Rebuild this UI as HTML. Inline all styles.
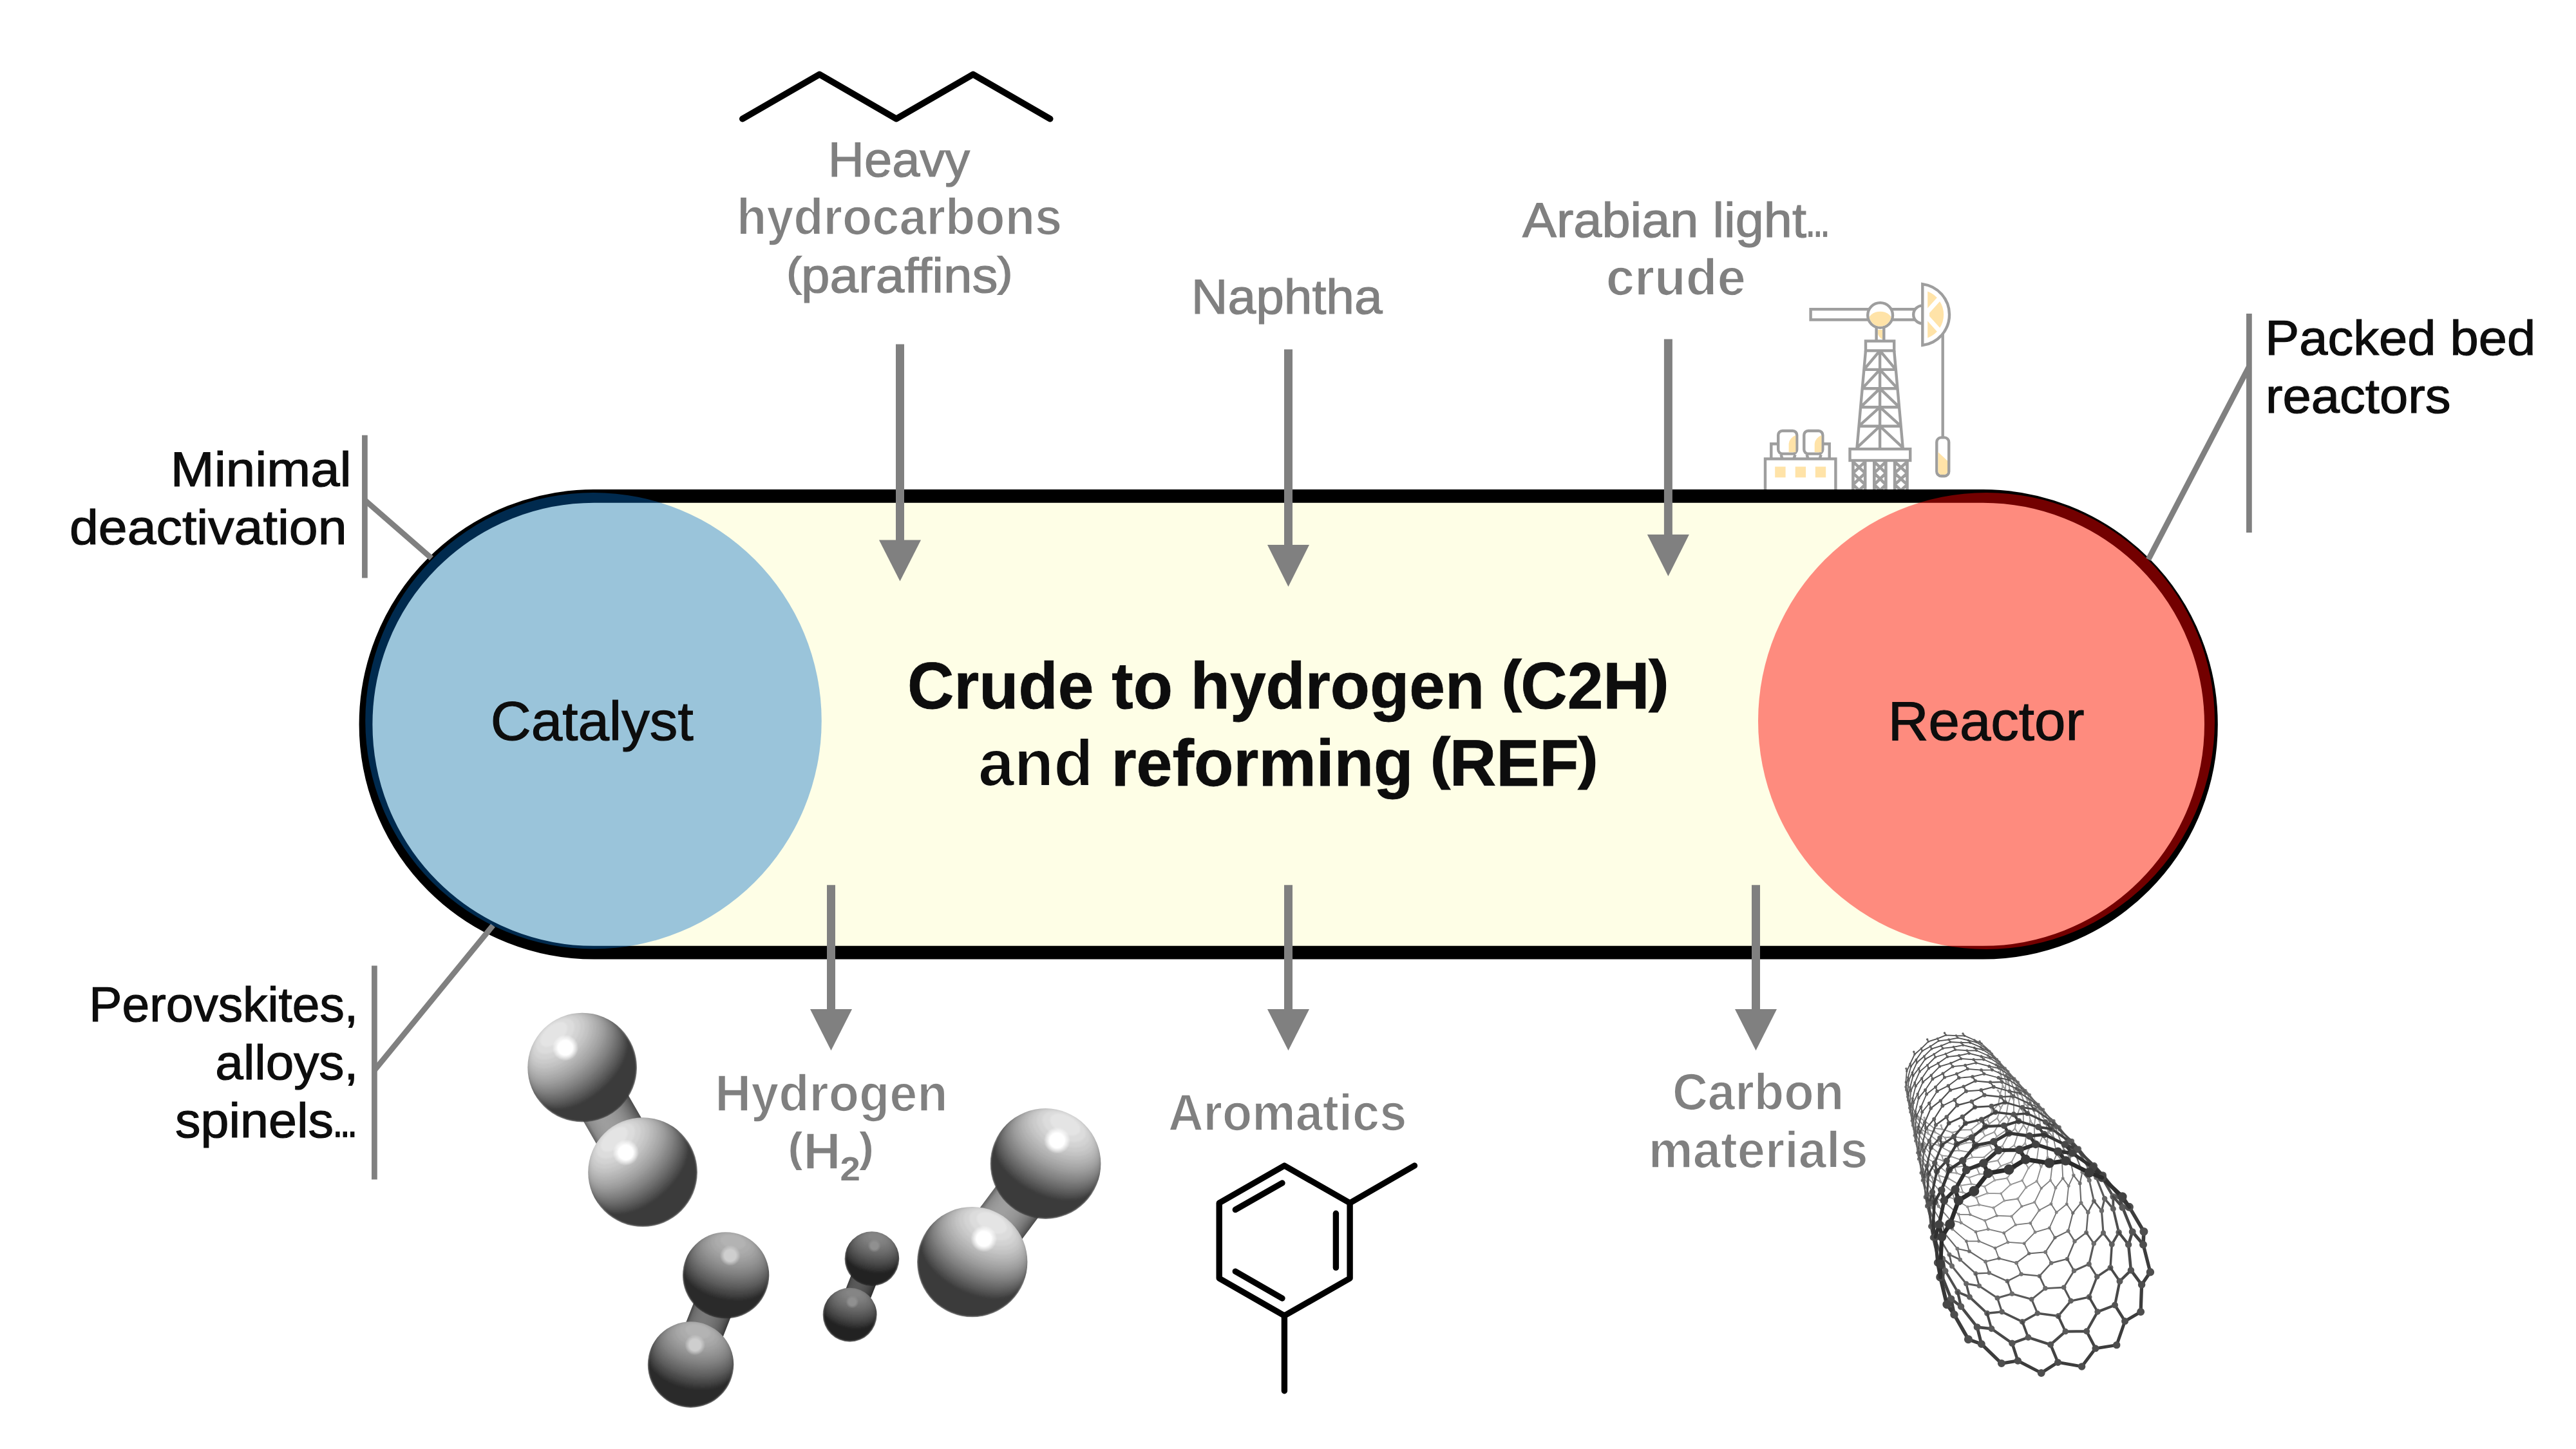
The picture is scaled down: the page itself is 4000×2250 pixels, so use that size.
<!DOCTYPE html>
<html><head><meta charset="utf-8"><title>Crude to hydrogen</title>
<style>
html,body{margin:0;padding:0;background:#fff;}
body{width:4000px;height:2250px;overflow:hidden;}
svg{display:block;font-family:"Liberation Sans", sans-serif;}
text{font-family:"Liberation Sans", sans-serif;white-space:pre;}
</style></head><body>
<svg width="4000" height="2250" viewBox="0 0 4000 2250">
<defs>

</defs>
<rect width="4000" height="2250" fill="#fff"/>
<g id="rig">
<g fill="none" stroke="#9e9e9e" stroke-width="4.4" stroke-linejoin="miter">
<path d="M2750.3,712.5 L2750.3,689.2 L2762,689.2 M2830,689.2 L2840.7,689.2 L2840.7,712.5"/>
<rect x="2741" y="712.5" width="109.4" height="60" fill="#fff"/>
<rect x="2756.2" y="724.6" width="16.4" height="16.8" fill="#ffe3a8" stroke="none"/>
<rect x="2787.7" y="724.6" width="16.4" height="16.8" fill="#ffe3a8" stroke="none"/>
<rect x="2818.8" y="724.6" width="16.4" height="16.8" fill="#ffe3a8" stroke="none"/>
<path d="M2765.5,706 L2767.5,712.5 M2787.5,706 L2785.5,712.5"/>
<rect x="2761.2" y="669" width="29" height="35.6" rx="6.5" fill="#fff"/>
<path d="M2788.4,675.7 L2788.4,702.3 L2777.6,702.3 L2777.6,689 Q2778.5,680 2788.4,675.7 Z" fill="#ffe3a8" stroke="none"/>
<path d="M2805.6,706 L2807.6,712.5 M2827.6,706 L2825.6,712.5"/>
<rect x="2801.2999999999997" y="669" width="29" height="35.6" rx="6.5" fill="#fff"/>
<path d="M2828.5,675.7 L2828.5,702.3 L2817.7,702.3 L2817.7,689 Q2818.6,680 2828.5,675.7 Z" fill="#ffe3a8" stroke="none"/>
<path d="M2897.0,544.5 L2883.5,695.1 M2941.2,544.5 L2954.7,695.1 M2919.1,544.5 L2919.1,695.1 M2894.4,573.9 L2943.8,573.9 M2891.7,603.3 L2946.5,603.3 M2889.1,632.2 L2949.1,632.2 M2886.5,661.7 L2951.7,661.7 M2894.4,573.9 L2919.1,544.5 L2943.8,573.9 M2891.7,603.3 L2919.1,573.9 L2946.5,603.3 M2889.1,632.2 L2919.1,603.3 L2949.1,632.2 M2886.5,661.7 L2919.1,632.2 L2951.7,661.7 M2883.5,695.1 L2919.1,661.7 L2954.7,695.1"/>
<rect x="2897" y="529.6" width="44.2" height="14.9" fill="#fff"/>
<path d="M2915.9,512 L2923.2,512 L2923.2,527 Q2916.5,523 2915.9,518 Z" fill="#ffe3a8" stroke="none"/>
<path d="M2913.6,508 L2913.6,529 M2925.3,508 L2925.3,529"/>
<rect x="2811.6" y="480.2" width="95" height="16.3" fill="#fff"/>
<rect x="2932" y="480.2" width="45" height="16.3" fill="#fff"/>
<path d="M2985,474.6 A13.75 13.75 0 0 0 2985,502.2" fill="#fff"/>
<circle cx="2919.6" cy="489.5" r="19.4" fill="#fff"/>
<clipPath id="pivc"><circle cx="2919.6" cy="489.5" r="17.2"/></clipPath>
<ellipse cx="2919.6" cy="499" rx="19" ry="15.3" fill="#ffe3a8" stroke="none" clip-path="url(#pivc)"/>
<path d="M3016.7,516 L3016.7,680"/>
<path d="M2985.3,441.1 A47.9 47.9 0 0 1 2985.3,536.1 Z" fill="#fff"/>
<path d="M2993.2,452.5 A38.6 38.6 0 0 1 2993.2,524.7 Z" fill="#ffe3a8" stroke="none"/>
<path d="M2992.2,484.9 L3029,444 M2992.2,492.1 L3029,533 M2990.3,488.5 L2996,488.5" stroke="#fff" stroke-width="7.2" clip-path="url(#hhc)"/>
<clipPath id="hhc"><circle cx="2979.3" cy="488.6" r="45.5"/></clipPath>
<rect x="3007.3" y="679.4" width="18.9" height="59.8" rx="7" fill="#fff"/>
<clipPath id="capc"><rect x="3009.5" y="681.6" width="14.5" height="55.4" rx="5"/></clipPath>
<path d="M3009,701.6 L3024.8,716.2 L3024.8,740 L3009,740 Z" fill="#ffe3a8" stroke="none" clip-path="url(#capc)"/>
<clipPath id="latc"><rect x="2870" y="715" width="100" height="50"/></clipPath>
<path d="M2877.4,715 L2877.4,770 M2896.2,715 L2896.2,770 M2877.4,716.9 L2896.2,699.1 M2877.4,699.1 L2896.2,716.9 M2877.4,734.7 L2896.2,716.9 M2877.4,716.9 L2896.2,734.7 M2877.4,752.5 L2896.2,734.7 M2877.4,734.7 L2896.2,752.5 M2877.4,770.3 L2896.2,752.5 M2877.4,752.5 L2896.2,770.3 M2877.4,788.1 L2896.2,770.3 M2877.4,770.3 L2896.2,788.1 M2910.3,715 L2910.3,770 M2928.4,715 L2928.4,770 M2910.3,716.9 L2928.4,699.1 M2910.3,699.1 L2928.4,716.9 M2910.3,734.7 L2928.4,716.9 M2910.3,716.9 L2928.4,734.7 M2910.3,752.5 L2928.4,734.7 M2910.3,734.7 L2928.4,752.5 M2910.3,770.3 L2928.4,752.5 M2910.3,752.5 L2928.4,770.3 M2910.3,788.1 L2928.4,770.3 M2910.3,770.3 L2928.4,788.1 M2942.1,715 L2942.1,770 M2961.5,715 L2961.5,770 M2942.1,716.9 L2961.5,699.1 M2942.1,699.1 L2961.5,716.9 M2942.1,734.7 L2961.5,716.9 M2942.1,716.9 L2961.5,734.7 M2942.1,752.5 L2961.5,734.7 M2942.1,734.7 L2961.5,752.5 M2942.1,770.3 L2961.5,752.5 M2942.1,752.5 L2961.5,770.3 M2942.1,788.1 L2961.5,770.3 M2942.1,770.3 L2961.5,788.1" stroke-width="4.6" clip-path="url(#latc)"/>
<rect x="2872.5" y="697.2" width="93.7" height="17.8" fill="#fff"/>
</g>

</g>
<g id="pill">
<rect x="568.0" y="770.4" width="2865.4" height="708.8" rx="354.4" ry="354.4" fill="#fefee6" stroke="#000" stroke-width="20.8"/>
</g>
<g id="connectors">
<line x1="566.4" y1="675.75" x2="566.4" y2="897.5" stroke="#808080" stroke-width="8.75"/>
<line x1="566.4" y1="776.5" x2="670" y2="866.75" stroke="#808080" stroke-width="8.75"/>
<line x1="581.4" y1="1499.5" x2="581.4" y2="1831.5" stroke="#808080" stroke-width="8.75"/>
<line x1="581.4" y1="1662" x2="765.5" y2="1436.9" stroke="#808080" stroke-width="8.75"/>
<line x1="3492.4" y1="487" x2="3492.4" y2="827" stroke="#808080" stroke-width="8.75"/>
<line x1="3492.4" y1="569" x2="3336" y2="868.75" stroke="#808080" stroke-width="8.75"/>
</g>
<g id="circles">
<circle cx="921.5" cy="1119.25" r="354.25" fill="rgb(0,108,198)" fill-opacity="0.394"/>
<circle cx="3084.5" cy="1119.5" r="354.5" fill="rgb(255,0,0)" fill-opacity="0.45"/>
</g>
<g id="arrows">
<rect x="1391.00" y="534.50" width="13" height="305.00" fill="#808080"/><polygon points="1365.00,838.50 1430.00,838.50 1397.50,902.50" fill="#808080"/>
<rect x="1994.00" y="542.50" width="13" height="304.50" fill="#808080"/><polygon points="1968.00,846.00 2033.00,846.00 2000.50,911.00" fill="#808080"/>
<rect x="2583.90" y="526.60" width="13" height="304.40" fill="#808080"/><polygon points="2557.90,830.00 2622.90,830.00 2590.40,894.80" fill="#808080"/>
<rect x="1284.00" y="1374.25" width="13" height="193.75" fill="#808080"/><polygon points="1258.00,1567.00 1323.00,1567.00 1290.50,1631.25" fill="#808080"/>
<rect x="1994.00" y="1374.25" width="13" height="193.75" fill="#808080"/><polygon points="1968.00,1567.00 2033.00,1567.00 2000.50,1631.25" fill="#808080"/>
<rect x="2720.00" y="1374.25" width="13" height="193.75" fill="#808080"/><polygon points="2694.00,1567.00 2759.00,1567.00 2726.50,1631.25" fill="#808080"/>
</g>
<g id="texts">
<text id="t_heavy" x="1285.85" y="273.75" font-size="76.2" font-weight="normal" fill="#808080" stroke="#808080" stroke-width="1.2" textLength="220.17" lengthAdjust="spacingAndGlyphs">Heavy</text>
<text id="t_hydroc" x="1143.89" y="364.25" font-size="80.6" font-weight="bold" fill="#808080" stroke="#fff" stroke-width="1.7" textLength="505.17" lengthAdjust="spacingAndGlyphs">hydrocarbons</text>
<text id="t_paraf" x="1221.70" y="453.50" font-size="76.2" font-weight="normal" fill="#808080" stroke="#808080" stroke-width="1.2" textLength="350.08" lengthAdjust="spacingAndGlyphs"><tspan font-size="63.8" stroke-width="2.0" dy="-9.7">(</tspan><tspan dy="9.7">paraffins</tspan><tspan font-size="63.8" stroke-width="2.0" dy="-9.7">)</tspan></text>
<text id="t_naph" x="1849.89" y="486.60" font-size="76.2" font-weight="normal" fill="#808080" stroke="#808080" stroke-width="1.2" textLength="296.72" lengthAdjust="spacingAndGlyphs">Naphtha</text>
<text id="t_arab" x="2364.00" y="368.00" font-size="76.2" font-weight="normal" fill="#808080" stroke="#808080" stroke-width="1.2" textLength="441.00" lengthAdjust="spacingAndGlyphs">Arabian light</text>
<text id="t_crude" x="2493.69" y="457.90" font-size="80.6" font-weight="bold" fill="#808080" stroke="#fff" stroke-width="1.7" textLength="217.22" lengthAdjust="spacingAndGlyphs">crude</text>
<text id="t_hydrogen" x="1110.33" y="1725.00" font-size="80.6" font-weight="bold" fill="#808080" stroke="#fff" stroke-width="1.7" textLength="361.31" lengthAdjust="spacingAndGlyphs">Hydrogen</text>
<text id="t_arom" x="1813.94" y="1754.80" font-size="80.6" font-weight="bold" fill="#808080" stroke="#fff" stroke-width="1.7" textLength="370.32" lengthAdjust="spacingAndGlyphs">Aromatics</text>
<text id="t_carbon" x="2596.91" y="1722.50" font-size="80.6" font-weight="bold" fill="#808080" stroke="#fff" stroke-width="1.7" textLength="266.28" lengthAdjust="spacingAndGlyphs">Carbon</text>
<text id="t_mater" x="2559.84" y="1812.50" font-size="80.6" font-weight="bold" fill="#808080" stroke="#fff" stroke-width="1.7" textLength="340.76" lengthAdjust="spacingAndGlyphs">materials</text>
<text id="t_minimal" x="264.78" y="755.00" font-size="76.2" font-weight="normal" fill="#0d0d0d" stroke="#0d0d0d" stroke-width="1.2" textLength="280.91" lengthAdjust="spacingAndGlyphs">Minimal</text>
<text id="t_deact" x="107.97" y="845.00" font-size="76.2" font-weight="normal" fill="#0d0d0d" stroke="#0d0d0d" stroke-width="1.2" textLength="430.61" lengthAdjust="spacingAndGlyphs">deactivation</text>
<text id="t_perov" x="138.34" y="1585.75" font-size="76.2" font-weight="normal" fill="#0d0d0d" stroke="#0d0d0d" stroke-width="1.2" textLength="417.83" lengthAdjust="spacingAndGlyphs">Perovskites,</text>
<text id="t_alloys" x="334.38" y="1676.25" font-size="76.2" font-weight="normal" fill="#0d0d0d" stroke="#0d0d0d" stroke-width="1.2" textLength="221.84" lengthAdjust="spacingAndGlyphs">alloys,</text>
<text id="t_spinels" x="271.99" y="1766.25" font-size="76.2" font-weight="normal" fill="#0d0d0d" stroke="#0d0d0d" stroke-width="1.2" textLength="246.04" lengthAdjust="spacingAndGlyphs">spinels</text>
<text id="t_packed" x="3517.34" y="550.50" font-size="76.2" font-weight="normal" fill="#0d0d0d" stroke="#0d0d0d" stroke-width="1.2" textLength="419.78" lengthAdjust="spacingAndGlyphs">Packed bed</text>
<text id="t_reactors" x="3517.92" y="640.50" font-size="76.2" font-weight="normal" fill="#0d0d0d" stroke="#0d0d0d" stroke-width="1.2" textLength="287.63" lengthAdjust="spacingAndGlyphs">reactors</text>
<text id="t_catalyst" x="761.75" y="1149.30" font-size="84.9" font-weight="normal" fill="#0d0d0d" stroke="#0d0d0d" stroke-width="1.2" textLength="314.86" lengthAdjust="spacingAndGlyphs">Catalyst</text>
<text id="t_reactor" x="2931.66" y="1148.70" font-size="84.9" font-weight="normal" fill="#0d0d0d" stroke="#0d0d0d" stroke-width="1.2" textLength="304.76" lengthAdjust="spacingAndGlyphs">Reactor</text>
<text id="t_title1" x="1408.98" y="1100.00" font-size="102.7" font-weight="bold" fill="#0d0d0d" stroke="#0d0d0d" stroke-width="0.8" textLength="1181.05" lengthAdjust="spacingAndGlyphs">Crude to hydrogen <tspan font-size="87" stroke-width="2.8" dy="-13">(</tspan><tspan dy="13">C2H</tspan><tspan font-size="87" stroke-width="2.8" dy="-13">)</tspan></text>
<text id="t_title2" x="1518.98" y="1220.00" font-size="102.7" font-weight="bold" fill="#0d0d0d" stroke="#0d0d0d" stroke-width="0.8" textLength="961.05" lengthAdjust="spacingAndGlyphs"><tspan stroke="#fefee6" stroke-width="2.0">and </tspan>reforming <tspan font-size="87" stroke-width="2.8" dy="-13">(</tspan><tspan dy="13">REF</tspan><tspan font-size="87" stroke-width="2.8" dy="-13">)</tspan></text>
<text id="t_h2a" x="1224.20" y="1804.30" font-size="63.9" font-weight="bold" fill="#808080" textLength="21.40" lengthAdjust="spacingAndGlyphs">(</text>
<text id="t_h2d" x="1247.20" y="1814.50" font-size="80.6" font-weight="bold" fill="#808080" stroke="#fff" stroke-width="1.7" textLength="58.40" lengthAdjust="spacingAndGlyphs">H</text>
<text id="t_h2b" x="1304.60" y="1832.50" font-size="52.5" font-weight="bold" fill="#808080" textLength="31.40" lengthAdjust="spacingAndGlyphs">2</text>
<text id="t_h2c" x="1334.80" y="1804.30" font-size="63.9" font-weight="bold" fill="#808080" textLength="21.40" lengthAdjust="spacingAndGlyphs">)</text>
</g>
<g id="art">
<polyline points="1153,184.5 1272.5,115.5 1391.75,184.5 1511,115.5 1630.5,184.5" fill="none" stroke="#000" stroke-width="10" stroke-linecap="round" stroke-linejoin="round"/>
<g fill="none" stroke="#000" stroke-width="9.4" stroke-linecap="round" stroke-linejoin="round">
<polygon points="1994.4,1810 2096.1,1868 2096.1,1985 1994.4,2043 1893.2,1985 1893.2,1868"/>
<line x1="2096.1" y1="1868" x2="2196.5" y2="1810"/>
<line x1="1994.4" y1="2043" x2="1994.4" y2="2159.7"/>
<line x1="1918.3" y1="1878.4" x2="1991" y2="1837"/>
<line x1="2074.4" y1="1884.2" x2="2074.4" y2="1968.4"/>
<line x1="1918.3" y1="1974.2" x2="1991" y2="2016"/>
</g>
<defs>
<filter id="sblur" x="-10%" y="-10%" width="120%" height="120%"><feGaussianBlur stdDeviation="1.6"/></filter>
<radialGradient id="spA"><stop offset="0" stop-color="#ffffff" stop-opacity="1"/><stop offset="0.55" stop-color="#ffffff" stop-opacity="1"/><stop offset="0.8" stop-color="#ffffff" stop-opacity="0.45"/><stop offset="1" stop-color="#ffffff" stop-opacity="0"/></radialGradient>
<radialGradient id="spC"><stop offset="0" stop-color="#cecece" stop-opacity="1"/><stop offset="0.55" stop-color="#cecece" stop-opacity="1"/><stop offset="0.8" stop-color="#cecece" stop-opacity="0.45"/><stop offset="1" stop-color="#cecece" stop-opacity="0"/></radialGradient>
<radialGradient id="spD"><stop offset="0" stop-color="#909090" stop-opacity="1"/><stop offset="0.55" stop-color="#909090" stop-opacity="1"/><stop offset="0.8" stop-color="#909090" stop-opacity="0.45"/><stop offset="1" stop-color="#909090" stop-opacity="0"/></radialGradient>
</defs>
<linearGradient id="bgA" gradientUnits="userSpaceOnUse" x1="986.1" y1="1718.7" x2="916.2" y2="1759.1"><stop offset="0.000" stop-color="#4b4b4b"/><stop offset="0.083" stop-color="#646464"/><stop offset="0.167" stop-color="#777777"/><stop offset="0.250" stop-color="#858585"/><stop offset="0.333" stop-color="#8f8f8f"/><stop offset="0.417" stop-color="#969696"/><stop offset="0.500" stop-color="#9b9b9b"/><stop offset="0.583" stop-color="#9d9d9d"/><stop offset="0.667" stop-color="#9e9e9e"/><stop offset="0.750" stop-color="#9b9b9b"/><stop offset="0.833" stop-color="#959595"/><stop offset="0.917" stop-color="#8a8a8a"/><stop offset="1.000" stop-color="#626262"/></linearGradient><polygon points="869.3,1677.8 963.2,1840.4 1033.0,1800.0 939.1,1637.4" fill="url(#bgA)"/>
<clipPath id="clA1"><circle cx="904.2" cy="1657.6" r="84.9"/></clipPath>
<g clip-path="url(#clA1)"><g filter="url(#sblur)">
<circle cx="904.2" cy="1657.6" r="84.9" fill="#3a3a3a"/>
<ellipse cx="904.0" cy="1657.3" rx="84.9" ry="46.6" transform="rotate(-40.7 904.0 1657.3)" fill="#3e3e3e"/>
<polygon points="968.2,1601.8 839.5,1712.6 717.6,1571.1 846.3,1460.3" fill="#3e3e3e"/>
<ellipse cx="902.8" cy="1656.0" rx="84.9" ry="46.6" transform="rotate(-40.7 902.8 1656.0)" fill="#434343"/>
<polygon points="966.5,1599.9 837.9,1710.7 716.0,1569.1 844.6,1458.4" fill="#434343"/>
<ellipse cx="901.5" cy="1654.4" rx="84.8" ry="46.5" transform="rotate(-40.7 901.5 1654.4)" fill="#484848"/>
<polygon points="964.4,1597.8 836.1,1708.3 714.2,1566.8 842.6,1456.2" fill="#484848"/>
<ellipse cx="900.0" cy="1652.7" rx="84.5" ry="46.4" transform="rotate(-40.7 900.0 1652.7)" fill="#4e4e4e"/>
<polygon points="962.1,1595.5 834.2,1705.6 712.3,1564.1 840.2,1454.0" fill="#4e4e4e"/>
<ellipse cx="898.4" cy="1650.8" rx="84.2" ry="46.2" transform="rotate(-40.7 898.4 1650.8)" fill="#545454"/>
<polygon points="959.5,1593.2 832.3,1702.7 710.4,1561.2 837.6,1451.6" fill="#545454"/>
<ellipse cx="896.7" cy="1648.9" rx="83.8" ry="46.0" transform="rotate(-40.7 896.7 1648.9)" fill="#5a5a5a"/>
<polygon points="956.6,1590.8 830.4,1699.5 708.5,1558.0 834.7,1449.3" fill="#5a5a5a"/>
<ellipse cx="895.0" cy="1646.9" rx="83.2" ry="45.6" transform="rotate(-40.7 895.0 1646.9)" fill="#616161"/>
<polygon points="953.5,1588.5 828.5,1696.1 706.7,1554.6 831.6,1447.0" fill="#616161"/>
<ellipse cx="893.2" cy="1644.8" rx="82.5" ry="45.2" transform="rotate(-40.7 893.2 1644.8)" fill="#676767"/>
<polygon points="950.2,1586.2 826.8,1692.5 704.9,1550.9 828.3,1444.7" fill="#676767"/>
<ellipse cx="891.4" cy="1642.7" rx="81.6" ry="44.8" transform="rotate(-40.7 891.4 1642.7)" fill="#6e6e6e"/>
<polygon points="946.6,1584.0 825.1,1688.6 703.3,1547.0 824.7,1442.5" fill="#6e6e6e"/>
<ellipse cx="889.5" cy="1640.5" rx="80.5" ry="44.2" transform="rotate(-40.7 889.5 1640.5)" fill="#757575"/>
<polygon points="942.7,1581.9 823.7,1684.4 701.8,1542.9 820.8,1440.4" fill="#757575"/>
<ellipse cx="887.6" cy="1638.3" rx="79.2" ry="43.5" transform="rotate(-40.7 887.6 1638.3)" fill="#7d7d7d"/>
<polygon points="938.5,1580.0 822.3,1680.0 700.4,1538.5 816.7,1438.4" fill="#7d7d7d"/>
<ellipse cx="885.6" cy="1636.0" rx="77.8" ry="42.7" transform="rotate(-40.7 885.6 1636.0)" fill="#848484"/>
<polygon points="934.1,1578.1 821.2,1675.4 699.3,1533.8 812.2,1436.6" fill="#848484"/>
<ellipse cx="883.6" cy="1633.7" rx="76.1" ry="41.7" transform="rotate(-40.7 883.6 1633.7)" fill="#8b8b8b"/>
<polygon points="929.3,1576.5 820.3,1670.4 698.4,1528.9 807.4,1435.0" fill="#8b8b8b"/>
<ellipse cx="881.6" cy="1631.4" rx="74.1" ry="40.7" transform="rotate(-40.7 881.6 1631.4)" fill="#939393"/>
<polygon points="924.2,1575.1 819.6,1665.1 697.8,1523.6 802.3,1433.5" fill="#939393"/>
<ellipse cx="879.6" cy="1629.0" rx="71.9" ry="39.4" transform="rotate(-40.7 879.6 1629.0)" fill="#9b9b9b"/>
<polygon points="918.6,1573.9 819.3,1659.4 697.4,1517.9 796.7,1432.4" fill="#9b9b9b"/>
<ellipse cx="877.5" cy="1626.6" rx="69.4" ry="38.0" transform="rotate(-40.7 877.5 1626.6)" fill="#a3a3a3"/>
<polygon points="912.6,1573.1 819.4,1653.3 697.5,1511.8 790.7,1431.6" fill="#a3a3a3"/>
<ellipse cx="875.4" cy="1624.1" rx="66.5" ry="36.5" transform="rotate(-40.7 875.4 1624.1)" fill="#aaaaaa"/>
<polygon points="905.9,1572.7 820.0,1646.7 698.1,1505.2 784.1,1431.2" fill="#aaaaaa"/>
<ellipse cx="873.2" cy="1621.6" rx="63.1" ry="34.6" transform="rotate(-40.7 873.2 1621.6)" fill="#b2b2b2"/>
<polygon points="898.6,1572.9 821.3,1639.4 699.4,1497.9 776.7,1431.4" fill="#b2b2b2"/>
<ellipse cx="871.1" cy="1619.1" rx="59.4" ry="32.6" transform="rotate(-40.7 871.1 1619.1)" fill="#bababa"/>
<polygon points="890.2,1573.9 823.5,1631.3 701.6,1489.8 768.3,1432.3" fill="#bababa"/>
<ellipse cx="868.9" cy="1616.6" rx="55.0" ry="30.2" transform="rotate(-40.7 868.9 1616.6)" fill="#c3c3c3"/>
<polygon points="880.1,1576.2 827.3,1621.7 705.4,1480.2 758.3,1434.6" fill="#c3c3c3"/>
<ellipse cx="866.7" cy="1614.0" rx="49.8" ry="27.3" transform="rotate(-40.7 866.7 1614.0)" fill="#cbcbcb"/>
<polygon points="866.5,1581.5 834.5,1609.1 712.7,1467.5 744.7,1440.0" fill="#cbcbcb"/>
<ellipse cx="864.5" cy="1611.5" rx="43.6" ry="23.9" transform="rotate(-40.7 864.5 1611.5)" fill="#d3d3d3"/>
<ellipse cx="862.2" cy="1608.8" rx="35.9" ry="19.7" transform="rotate(-40.7 862.2 1608.8)" fill="#dcdcdc"/>
<ellipse cx="859.9" cy="1606.2" rx="25.1" ry="13.7" transform="rotate(-40.7 859.9 1606.2)" fill="#e4e4e4"/>
</g>
<circle cx="877.9" cy="1627.0" r="20.4" fill="url(#spA)"/>
</g>
<clipPath id="clA2"><circle cx="998.1" cy="1820.2" r="84.9"/></clipPath>
<g clip-path="url(#clA2)"><g filter="url(#sblur)">
<circle cx="998.1" cy="1820.2" r="84.9" fill="#3a3a3a"/>
<ellipse cx="997.9" cy="1819.9" rx="84.9" ry="46.6" transform="rotate(-40.7 997.9 1819.9)" fill="#3e3e3e"/>
<polygon points="1062.1,1764.4 933.4,1875.2 811.5,1733.7 940.2,1622.9" fill="#3e3e3e"/>
<ellipse cx="996.7" cy="1818.6" rx="84.9" ry="46.6" transform="rotate(-40.7 996.7 1818.6)" fill="#434343"/>
<polygon points="1060.4,1762.5 931.8,1873.3 809.9,1731.7 938.5,1621.0" fill="#434343"/>
<ellipse cx="995.4" cy="1817.0" rx="84.8" ry="46.5" transform="rotate(-40.7 995.4 1817.0)" fill="#484848"/>
<polygon points="1058.3,1760.4 930.0,1870.9 808.1,1729.4 936.5,1618.8" fill="#484848"/>
<ellipse cx="993.9" cy="1815.3" rx="84.5" ry="46.4" transform="rotate(-40.7 993.9 1815.3)" fill="#4e4e4e"/>
<polygon points="1056.0,1758.1 928.1,1868.2 806.2,1726.7 934.1,1616.6" fill="#4e4e4e"/>
<ellipse cx="992.3" cy="1813.4" rx="84.2" ry="46.2" transform="rotate(-40.7 992.3 1813.4)" fill="#545454"/>
<polygon points="1053.4,1755.8 926.2,1865.3 804.3,1723.8 931.5,1614.2" fill="#545454"/>
<ellipse cx="990.6" cy="1811.5" rx="83.8" ry="46.0" transform="rotate(-40.7 990.6 1811.5)" fill="#5a5a5a"/>
<polygon points="1050.5,1753.4 924.3,1862.1 802.4,1720.6 928.6,1611.9" fill="#5a5a5a"/>
<ellipse cx="988.9" cy="1809.5" rx="83.2" ry="45.6" transform="rotate(-40.7 988.9 1809.5)" fill="#616161"/>
<polygon points="1047.4,1751.1 922.4,1858.7 800.6,1717.2 925.5,1609.6" fill="#616161"/>
<ellipse cx="987.1" cy="1807.4" rx="82.5" ry="45.2" transform="rotate(-40.7 987.1 1807.4)" fill="#676767"/>
<polygon points="1044.1,1748.8 920.7,1855.1 798.8,1713.5 922.2,1607.3" fill="#676767"/>
<ellipse cx="985.3" cy="1805.3" rx="81.6" ry="44.8" transform="rotate(-40.7 985.3 1805.3)" fill="#6e6e6e"/>
<polygon points="1040.5,1746.6 919.0,1851.2 797.2,1709.6 918.6,1605.1" fill="#6e6e6e"/>
<ellipse cx="983.4" cy="1803.1" rx="80.5" ry="44.2" transform="rotate(-40.7 983.4 1803.1)" fill="#757575"/>
<polygon points="1036.6,1744.5 917.6,1847.0 795.7,1705.5 914.7,1603.0" fill="#757575"/>
<ellipse cx="981.5" cy="1800.9" rx="79.2" ry="43.5" transform="rotate(-40.7 981.5 1800.9)" fill="#7d7d7d"/>
<polygon points="1032.4,1742.6 916.2,1842.6 794.3,1701.1 910.6,1601.0" fill="#7d7d7d"/>
<ellipse cx="979.5" cy="1798.6" rx="77.8" ry="42.7" transform="rotate(-40.7 979.5 1798.6)" fill="#848484"/>
<polygon points="1028.0,1740.7 915.1,1838.0 793.2,1696.4 906.1,1599.2" fill="#848484"/>
<ellipse cx="977.5" cy="1796.3" rx="76.1" ry="41.7" transform="rotate(-40.7 977.5 1796.3)" fill="#8b8b8b"/>
<polygon points="1023.2,1739.1 914.2,1833.0 792.3,1691.5 901.3,1597.6" fill="#8b8b8b"/>
<ellipse cx="975.5" cy="1794.0" rx="74.1" ry="40.7" transform="rotate(-40.7 975.5 1794.0)" fill="#939393"/>
<polygon points="1018.1,1737.7 913.5,1827.7 791.7,1686.2 896.2,1596.1" fill="#939393"/>
<ellipse cx="973.5" cy="1791.6" rx="71.9" ry="39.4" transform="rotate(-40.7 973.5 1791.6)" fill="#9b9b9b"/>
<polygon points="1012.5,1736.5 913.2,1822.0 791.3,1680.5 890.6,1595.0" fill="#9b9b9b"/>
<ellipse cx="971.4" cy="1789.2" rx="69.4" ry="38.0" transform="rotate(-40.7 971.4 1789.2)" fill="#a3a3a3"/>
<polygon points="1006.5,1735.7 913.3,1815.9 791.4,1674.4 884.6,1594.2" fill="#a3a3a3"/>
<ellipse cx="969.3" cy="1786.7" rx="66.5" ry="36.5" transform="rotate(-40.7 969.3 1786.7)" fill="#aaaaaa"/>
<polygon points="999.8,1735.3 913.9,1809.3 792.0,1667.8 878.0,1593.8" fill="#aaaaaa"/>
<ellipse cx="967.1" cy="1784.2" rx="63.1" ry="34.6" transform="rotate(-40.7 967.1 1784.2)" fill="#b2b2b2"/>
<polygon points="992.5,1735.5 915.2,1802.0 793.3,1660.5 870.6,1594.0" fill="#b2b2b2"/>
<ellipse cx="965.0" cy="1781.7" rx="59.4" ry="32.6" transform="rotate(-40.7 965.0 1781.7)" fill="#bababa"/>
<polygon points="984.1,1736.5 917.4,1793.9 795.5,1652.4 862.2,1594.9" fill="#bababa"/>
<ellipse cx="962.8" cy="1779.2" rx="55.0" ry="30.2" transform="rotate(-40.7 962.8 1779.2)" fill="#c3c3c3"/>
<polygon points="974.0,1738.8 921.2,1784.3 799.3,1642.8 852.2,1597.2" fill="#c3c3c3"/>
<ellipse cx="960.6" cy="1776.6" rx="49.8" ry="27.3" transform="rotate(-40.7 960.6 1776.6)" fill="#cbcbcb"/>
<polygon points="960.4,1744.1 928.4,1771.7 806.6,1630.1 838.6,1602.6" fill="#cbcbcb"/>
<ellipse cx="958.4" cy="1774.1" rx="43.6" ry="23.9" transform="rotate(-40.7 958.4 1774.1)" fill="#d3d3d3"/>
<ellipse cx="956.1" cy="1771.4" rx="35.9" ry="19.7" transform="rotate(-40.7 956.1 1771.4)" fill="#dcdcdc"/>
<ellipse cx="953.8" cy="1768.8" rx="25.1" ry="13.7" transform="rotate(-40.7 953.8 1768.8)" fill="#e4e4e4"/>
</g>
<circle cx="971.8" cy="1789.6" r="20.4" fill="url(#spA)"/>
</g>
<linearGradient id="bgB" gradientUnits="userSpaceOnUse" x1="1599.3" y1="1907.7" x2="1533.9" y2="1858.9"><stop offset="0.000" stop-color="#4b4b4b"/><stop offset="0.083" stop-color="#666666"/><stop offset="0.167" stop-color="#7a7a7a"/><stop offset="0.250" stop-color="#878787"/><stop offset="0.333" stop-color="#919191"/><stop offset="0.417" stop-color="#989898"/><stop offset="0.500" stop-color="#9c9c9c"/><stop offset="0.583" stop-color="#9f9f9f"/><stop offset="0.667" stop-color="#9f9f9f"/><stop offset="0.750" stop-color="#9c9c9c"/><stop offset="0.833" stop-color="#969696"/><stop offset="0.917" stop-color="#8a8a8a"/><stop offset="1.000" stop-color="#616161"/></linearGradient><polygon points="1590.8,1782.6 1477.0,1935.2 1542.4,1984.0 1656.2,1831.4" fill="url(#bgB)"/>
<clipPath id="clB1"><circle cx="1623.5" cy="1807.0" r="85.9"/></clipPath>
<g clip-path="url(#clB1)"><g filter="url(#sblur)">
<circle cx="1623.5" cy="1807.0" r="85.9" fill="#3a3a3a"/>
<ellipse cx="1623.7" cy="1806.7" rx="85.9" ry="48.0" transform="rotate(26.6 1623.7 1806.7)" fill="#3e3e3e"/>
<polygon points="1700.6,1844.9 1546.9,1768.1 1631.4,1599.1 1785.1,1675.9" fill="#3e3e3e"/>
<ellipse cx="1624.5" cy="1805.1" rx="85.9" ry="48.0" transform="rotate(26.6 1624.5 1805.1)" fill="#434343"/>
<polygon points="1701.7,1842.6 1548.1,1765.8 1632.6,1596.8 1786.2,1673.6" fill="#434343"/>
<ellipse cx="1625.4" cy="1803.2" rx="85.7" ry="47.9" transform="rotate(26.6 1625.4 1803.2)" fill="#484848"/>
<polygon points="1702.9,1839.8 1549.6,1763.2 1634.1,1594.2 1787.4,1670.8" fill="#484848"/>
<ellipse cx="1626.4" cy="1801.2" rx="85.5" ry="47.8" transform="rotate(26.6 1626.4 1801.2)" fill="#4e4e4e"/>
<polygon points="1704.1,1836.7 1551.4,1760.3 1635.9,1591.3 1788.6,1667.7" fill="#4e4e4e"/>
<ellipse cx="1627.5" cy="1799.0" rx="85.2" ry="47.6" transform="rotate(26.6 1627.5 1799.0)" fill="#545454"/>
<polygon points="1705.3,1833.3 1553.4,1757.4 1637.9,1588.3 1789.8,1664.3" fill="#545454"/>
<ellipse cx="1628.6" cy="1796.7" rx="84.8" ry="47.4" transform="rotate(26.6 1628.6 1796.7)" fill="#5a5a5a"/>
<polygon points="1706.3,1829.7 1555.6,1754.3 1640.1,1585.3 1790.9,1660.7" fill="#5a5a5a"/>
<ellipse cx="1629.8" cy="1794.3" rx="84.2" ry="47.1" transform="rotate(26.6 1629.8 1794.3)" fill="#616161"/>
<polygon points="1707.3,1825.9 1558.1,1751.3 1642.6,1582.2 1791.8,1656.8" fill="#616161"/>
<ellipse cx="1631.1" cy="1791.9" rx="83.4" ry="46.6" transform="rotate(26.6 1631.1 1791.9)" fill="#676767"/>
<polygon points="1708.1,1821.8 1560.9,1748.2 1645.4,1579.2 1792.6,1652.8" fill="#676767"/>
<ellipse cx="1632.3" cy="1789.4" rx="82.5" ry="46.1" transform="rotate(26.6 1632.3 1789.4)" fill="#6e6e6e"/>
<polygon points="1708.7,1817.6 1563.9,1745.1 1648.4,1576.1 1793.3,1648.5" fill="#6e6e6e"/>
<ellipse cx="1633.6" cy="1786.8" rx="81.5" ry="45.5" transform="rotate(26.6 1633.6 1786.8)" fill="#757575"/>
<polygon points="1709.2,1813.1 1567.2,1742.1 1651.7,1573.1 1793.7,1644.1" fill="#757575"/>
<ellipse cx="1634.9" cy="1784.1" rx="80.2" ry="44.8" transform="rotate(26.6 1634.9 1784.1)" fill="#7d7d7d"/>
<polygon points="1709.4,1808.4 1570.9,1739.1 1655.4,1570.1 1793.9,1639.4" fill="#7d7d7d"/>
<ellipse cx="1636.3" cy="1781.5" rx="78.7" ry="44.0" transform="rotate(26.6 1636.3 1781.5)" fill="#848484"/>
<polygon points="1709.3,1803.5 1574.8,1736.2 1659.3,1567.2 1793.8,1634.4" fill="#848484"/>
<ellipse cx="1637.6" cy="1778.7" rx="77.0" ry="43.0" transform="rotate(26.6 1637.6 1778.7)" fill="#8b8b8b"/>
<polygon points="1709.0,1798.3 1579.2,1733.4 1663.7,1564.4 1793.5,1629.3" fill="#8b8b8b"/>
<ellipse cx="1639.0" cy="1775.9" rx="75.0" ry="41.9" transform="rotate(26.6 1639.0 1775.9)" fill="#939393"/>
<polygon points="1708.2,1792.9 1583.9,1730.8 1668.5,1561.7 1792.7,1623.9" fill="#939393"/>
<ellipse cx="1640.4" cy="1773.1" rx="72.7" ry="40.7" transform="rotate(26.6 1640.4 1773.1)" fill="#9b9b9b"/>
<polygon points="1707.1,1787.2 1589.2,1728.2 1673.7,1559.2 1791.6,1618.2" fill="#9b9b9b"/>
<ellipse cx="1641.9" cy="1770.3" rx="70.2" ry="39.2" transform="rotate(26.6 1641.9 1770.3)" fill="#a3a3a3"/>
<polygon points="1705.4,1781.2 1595.0,1726.0 1679.5,1556.9 1789.9,1612.1" fill="#a3a3a3"/>
<ellipse cx="1643.3" cy="1767.4" rx="67.2" ry="37.6" transform="rotate(26.6 1643.3 1767.4)" fill="#aaaaaa"/>
<polygon points="1703.1,1774.7 1601.6,1723.9 1686.1,1554.9 1787.6,1605.7" fill="#aaaaaa"/>
<ellipse cx="1644.8" cy="1764.4" rx="63.9" ry="35.7" transform="rotate(26.6 1644.8 1764.4)" fill="#b2b2b2"/>
<polygon points="1699.9,1767.8 1609.0,1722.3 1693.5,1553.3 1784.4,1598.8" fill="#b2b2b2"/>
<ellipse cx="1646.3" cy="1761.4" rx="60.1" ry="33.6" transform="rotate(26.6 1646.3 1761.4)" fill="#bababa"/>
<polygon points="1695.5,1760.2 1617.7,1721.3 1702.2,1552.3 1780.0,1591.2" fill="#bababa"/>
<ellipse cx="1647.8" cy="1758.4" rx="55.6" ry="31.1" transform="rotate(26.6 1647.8 1758.4)" fill="#c3c3c3"/>
<polygon points="1689.1,1751.5 1628.6,1721.2 1713.1,1552.2 1773.6,1582.5" fill="#c3c3c3"/>
<ellipse cx="1649.3" cy="1755.4" rx="50.4" ry="28.2" transform="rotate(26.6 1649.3 1755.4)" fill="#cbcbcb"/>
<polygon points="1677.5,1740.2 1644.5,1723.7 1729.0,1554.7 1762.0,1571.2" fill="#cbcbcb"/>
<ellipse cx="1650.8" cy="1752.3" rx="44.1" ry="24.7" transform="rotate(26.6 1650.8 1752.3)" fill="#d3d3d3"/>
<ellipse cx="1652.4" cy="1749.3" rx="36.3" ry="20.3" transform="rotate(26.6 1652.4 1749.3)" fill="#dcdcdc"/>
<ellipse cx="1653.9" cy="1746.1" rx="25.4" ry="14.2" transform="rotate(26.6 1653.9 1746.1)" fill="#e4e4e4"/>
</g>
<circle cx="1641.5" cy="1770.9" r="20.6" fill="url(#spA)"/>
</g>
<clipPath id="clB2"><circle cx="1509.7" cy="1959.6" r="85.7"/></clipPath>
<g clip-path="url(#clB2)"><g filter="url(#sblur)">
<circle cx="1509.7" cy="1959.6" r="85.7" fill="#3a3a3a"/>
<ellipse cx="1509.9" cy="1959.3" rx="85.7" ry="47.9" transform="rotate(26.6 1509.9 1959.3)" fill="#3e3e3e"/>
<polygon points="1586.6,1997.4 1433.3,1920.8 1517.6,1752.2 1670.9,1828.8" fill="#3e3e3e"/>
<ellipse cx="1510.7" cy="1957.7" rx="85.7" ry="47.9" transform="rotate(26.6 1510.7 1957.7)" fill="#434343"/>
<polygon points="1587.7,1995.1 1434.5,1918.5 1518.8,1749.9 1672.0,1826.5" fill="#434343"/>
<ellipse cx="1511.6" cy="1955.8" rx="85.5" ry="47.8" transform="rotate(26.6 1511.6 1955.8)" fill="#484848"/>
<polygon points="1588.9,1992.3 1436.0,1915.9 1520.3,1747.2 1673.2,1823.7" fill="#484848"/>
<ellipse cx="1512.6" cy="1953.8" rx="85.3" ry="47.7" transform="rotate(26.6 1512.6 1953.8)" fill="#4e4e4e"/>
<polygon points="1590.1,1989.2 1437.7,1913.0 1522.1,1744.4 1674.4,1820.6" fill="#4e4e4e"/>
<ellipse cx="1513.7" cy="1951.6" rx="85.0" ry="47.5" transform="rotate(26.6 1513.7 1951.6)" fill="#545454"/>
<polygon points="1591.3,1985.9 1439.7,1910.1 1524.1,1741.5 1675.6,1817.2" fill="#545454"/>
<ellipse cx="1514.8" cy="1949.3" rx="84.6" ry="47.3" transform="rotate(26.6 1514.8 1949.3)" fill="#5a5a5a"/>
<polygon points="1592.4,1982.2 1442.0,1907.1 1526.3,1738.4 1676.7,1813.6" fill="#5a5a5a"/>
<ellipse cx="1516.0" cy="1947.0" rx="84.0" ry="46.9" transform="rotate(26.6 1516.0 1947.0)" fill="#616161"/>
<polygon points="1593.3,1978.4 1444.5,1904.0 1528.8,1735.4 1677.6,1809.8" fill="#616161"/>
<ellipse cx="1517.2" cy="1944.5" rx="83.3" ry="46.5" transform="rotate(26.6 1517.2 1944.5)" fill="#676767"/>
<polygon points="1594.1,1974.4 1447.2,1900.9 1531.5,1732.3 1678.4,1805.7" fill="#676767"/>
<ellipse cx="1518.5" cy="1942.0" rx="82.3" ry="46.0" transform="rotate(26.6 1518.5 1942.0)" fill="#6e6e6e"/>
<polygon points="1594.8,1970.1 1450.2,1897.9 1534.6,1729.2 1679.1,1801.5" fill="#6e6e6e"/>
<ellipse cx="1519.8" cy="1939.4" rx="81.3" ry="45.4" transform="rotate(26.6 1519.8 1939.4)" fill="#757575"/>
<polygon points="1595.2,1965.7 1453.6,1894.9 1537.9,1726.2 1679.5,1797.0" fill="#757575"/>
<ellipse cx="1521.1" cy="1936.8" rx="80.0" ry="44.7" transform="rotate(26.6 1521.1 1936.8)" fill="#7d7d7d"/>
<polygon points="1595.4,1961.0 1457.2,1891.9 1541.5,1723.2 1679.7,1792.4" fill="#7d7d7d"/>
<ellipse cx="1522.4" cy="1934.1" rx="78.5" ry="43.9" transform="rotate(26.6 1522.4 1934.1)" fill="#848484"/>
<polygon points="1595.3,1956.1 1461.1,1889.0 1545.5,1720.4 1679.6,1787.4" fill="#848484"/>
<ellipse cx="1523.8" cy="1931.4" rx="76.8" ry="42.9" transform="rotate(26.6 1523.8 1931.4)" fill="#8b8b8b"/>
<polygon points="1595.0,1950.9 1465.5,1886.2 1549.8,1717.6 1679.3,1782.3" fill="#8b8b8b"/>
<ellipse cx="1525.2" cy="1928.6" rx="74.8" ry="41.8" transform="rotate(26.6 1525.2 1928.6)" fill="#939393"/>
<polygon points="1594.2,1945.5 1470.2,1883.5 1554.6,1714.9 1678.6,1776.9" fill="#939393"/>
<ellipse cx="1526.6" cy="1925.8" rx="72.6" ry="40.6" transform="rotate(26.6 1526.6 1925.8)" fill="#9b9b9b"/>
<polygon points="1593.1,1939.8 1475.5,1881.0 1559.8,1712.4 1677.4,1771.2" fill="#9b9b9b"/>
<ellipse cx="1528.0" cy="1922.9" rx="70.0" ry="39.1" transform="rotate(26.6 1528.0 1922.9)" fill="#a3a3a3"/>
<polygon points="1591.4,1933.8 1481.3,1878.7 1565.6,1710.1 1675.7,1765.2" fill="#a3a3a3"/>
<ellipse cx="1529.5" cy="1920.0" rx="67.1" ry="37.5" transform="rotate(26.6 1529.5 1920.0)" fill="#aaaaaa"/>
<polygon points="1589.1,1927.4 1487.8,1876.7 1572.1,1708.1 1673.4,1758.8" fill="#aaaaaa"/>
<ellipse cx="1530.9" cy="1917.1" rx="63.7" ry="35.6" transform="rotate(26.6 1530.9 1917.1)" fill="#b2b2b2"/>
<polygon points="1586.0,1920.5 1495.2,1875.1 1579.6,1706.5 1670.3,1751.9" fill="#b2b2b2"/>
<ellipse cx="1532.4" cy="1914.2" rx="59.9" ry="33.5" transform="rotate(26.6 1532.4 1914.2)" fill="#bababa"/>
<polygon points="1581.6,1912.9 1503.9,1874.1 1588.3,1705.5 1665.9,1744.3" fill="#bababa"/>
<ellipse cx="1533.9" cy="1911.2" rx="55.5" ry="31.0" transform="rotate(26.6 1533.9 1911.2)" fill="#c3c3c3"/>
<polygon points="1575.1,1904.2 1514.7,1874.0 1599.1,1705.4 1659.4,1735.6" fill="#c3c3c3"/>
<ellipse cx="1535.4" cy="1908.1" rx="50.3" ry="28.1" transform="rotate(26.6 1535.4 1908.1)" fill="#cbcbcb"/>
<polygon points="1563.6,1893.0 1530.7,1876.5 1615.0,1707.9 1647.9,1724.3" fill="#cbcbcb"/>
<ellipse cx="1537.0" cy="1905.1" rx="44.0" ry="24.6" transform="rotate(26.6 1537.0 1905.1)" fill="#d3d3d3"/>
<ellipse cx="1538.5" cy="1902.0" rx="36.2" ry="20.2" transform="rotate(26.6 1538.5 1902.0)" fill="#dcdcdc"/>
<ellipse cx="1540.1" cy="1898.9" rx="25.3" ry="14.1" transform="rotate(26.6 1540.1 1898.9)" fill="#e4e4e4"/>
</g>
<circle cx="1527.7" cy="1923.6" r="20.6" fill="url(#spA)"/>
</g>
<linearGradient id="bgC" gradientUnits="userSpaceOnUse" x1="1128.5" y1="2061.0" x2="1071.1" y2="2038.5"><stop offset="0.000" stop-color="#383838"/><stop offset="0.083" stop-color="#4f4f4f"/><stop offset="0.167" stop-color="#5e5e5e"/><stop offset="0.250" stop-color="#686868"/><stop offset="0.333" stop-color="#6f6f6f"/><stop offset="0.417" stop-color="#757575"/><stop offset="0.500" stop-color="#787878"/><stop offset="0.583" stop-color="#7a7a7a"/><stop offset="0.667" stop-color="#7a7a7a"/><stop offset="0.750" stop-color="#777777"/><stop offset="0.833" stop-color="#727272"/><stop offset="0.917" stop-color="#686868"/><stop offset="1.000" stop-color="#474747"/></linearGradient><polygon points="1098.4,1969.1 1043.8,2107.8 1101.2,2130.4 1155.8,1991.7" fill="url(#bgC)"/>
<clipPath id="clC1"><circle cx="1127.1" cy="1980.4" r="67.2"/></clipPath>
<g clip-path="url(#clC1)"><g filter="url(#sblur)">
<circle cx="1127.1" cy="1980.4" r="67.2" fill="#2b2b2b"/>
<ellipse cx="1127.2" cy="1980.1" rx="67.2" ry="37.4" transform="rotate(12.3 1127.2 1980.1)" fill="#2e2e2e"/>
<polygon points="1192.9,1994.3 1061.5,1965.7 1092.9,1821.3 1224.3,1849.8" fill="#2e2e2e"/>
<ellipse cx="1127.5" cy="1978.8" rx="67.2" ry="37.4" transform="rotate(12.3 1127.5 1978.8)" fill="#323232"/>
<polygon points="1193.2,1992.3 1062.0,1963.8 1093.4,1819.3 1224.6,1847.8" fill="#323232"/>
<ellipse cx="1127.8" cy="1977.2" rx="67.1" ry="37.4" transform="rotate(12.3 1127.8 1977.2)" fill="#363636"/>
<polygon points="1193.6,1989.9 1062.6,1961.5 1094.0,1817.0 1225.0,1845.5" fill="#363636"/>
<ellipse cx="1128.2" cy="1975.4" rx="66.9" ry="37.3" transform="rotate(12.3 1128.2 1975.4)" fill="#3b3b3b"/>
<polygon points="1193.9,1987.4 1063.4,1959.0 1094.8,1814.5 1225.3,1842.9" fill="#3b3b3b"/>
<ellipse cx="1128.6" cy="1973.5" rx="66.7" ry="37.1" transform="rotate(12.3 1128.6 1973.5)" fill="#404040"/>
<polygon points="1194.2,1984.6 1064.4,1956.3 1095.8,1811.9 1225.6,1840.1" fill="#404040"/>
<ellipse cx="1129.0" cy="1971.6" rx="66.3" ry="36.9" transform="rotate(12.3 1129.0 1971.6)" fill="#454545"/>
<polygon points="1194.3,1981.6 1065.5,1953.6 1096.9,1809.2 1225.7,1837.2" fill="#454545"/>
<ellipse cx="1129.5" cy="1969.6" rx="65.9" ry="36.7" transform="rotate(12.3 1129.5 1969.6)" fill="#4a4a4a"/>
<polygon points="1194.3,1978.5 1066.8,1950.8 1098.2,1806.4 1225.7,1834.1" fill="#4a4a4a"/>
<ellipse cx="1129.9" cy="1967.5" rx="65.3" ry="36.3" transform="rotate(12.3 1129.9 1967.5)" fill="#4f4f4f"/>
<polygon points="1194.1,1975.3 1068.3,1948.0 1099.7,1803.5 1225.5,1830.9" fill="#4f4f4f"/>
<ellipse cx="1130.4" cy="1965.3" rx="64.6" ry="36.0" transform="rotate(12.3 1130.4 1965.3)" fill="#555555"/>
<polygon points="1193.8,1972.0 1069.9,1945.1 1101.4,1800.6 1225.2,1827.5" fill="#555555"/>
<ellipse cx="1130.9" cy="1963.1" rx="63.7" ry="35.5" transform="rotate(12.3 1130.9 1963.1)" fill="#5b5b5b"/>
<polygon points="1193.2,1968.5 1071.9,1942.1 1103.3,1797.7 1224.6,1824.0" fill="#5b5b5b"/>
<ellipse cx="1131.4" cy="1960.8" rx="62.7" ry="34.9" transform="rotate(12.3 1131.4 1960.8)" fill="#606060"/>
<polygon points="1192.5,1964.9 1074.0,1939.2 1105.4,1794.7 1223.9,1820.4" fill="#606060"/>
<ellipse cx="1131.9" cy="1958.5" rx="61.6" ry="34.3" transform="rotate(12.3 1131.9 1958.5)" fill="#666666"/>
<polygon points="1191.5,1961.2 1076.5,1936.2 1107.9,1791.7 1222.9,1816.7" fill="#666666"/>
<ellipse cx="1132.4" cy="1956.2" rx="60.2" ry="33.5" transform="rotate(12.3 1132.4 1956.2)" fill="#6c6c6c"/>
<polygon points="1190.2,1957.4 1079.2,1933.2 1110.6,1788.8 1221.6,1812.9" fill="#6c6c6c"/>
<ellipse cx="1132.9" cy="1953.8" rx="58.7" ry="32.7" transform="rotate(12.3 1132.9 1953.8)" fill="#727272"/>
<polygon points="1188.6,1953.4 1082.3,1930.3 1113.7,1785.8 1220.1,1809.0" fill="#727272"/>
<ellipse cx="1133.4" cy="1951.4" rx="56.9" ry="31.7" transform="rotate(12.3 1133.4 1951.4)" fill="#787878"/>
<polygon points="1186.7,1949.3 1085.8,1927.4 1117.2,1782.9 1218.1,1804.9" fill="#787878"/>
<ellipse cx="1133.9" cy="1948.9" rx="54.9" ry="30.6" transform="rotate(12.3 1133.9 1948.9)" fill="#7f7f7f"/>
<polygon points="1184.3,1945.1 1089.8,1924.5 1121.2,1780.1 1215.7,1800.6" fill="#7f7f7f"/>
<ellipse cx="1134.5" cy="1946.5" rx="52.6" ry="29.3" transform="rotate(12.3 1134.5 1946.5)" fill="#858585"/>
<polygon points="1181.3,1940.7 1094.3,1921.7 1125.7,1777.3 1212.7,1796.2" fill="#858585"/>
<ellipse cx="1135.0" cy="1943.9" rx="50.0" ry="27.8" transform="rotate(12.3 1135.0 1943.9)" fill="#8b8b8b"/>
<polygon points="1177.6,1936.0 1099.6,1919.1 1131.0,1774.6 1209.0,1791.6" fill="#8b8b8b"/>
<ellipse cx="1135.6" cy="1941.4" rx="47.0" ry="26.2" transform="rotate(12.3 1135.6 1941.4)" fill="#929292"/>
<polygon points="1172.8,1931.1 1106.0,1916.6 1137.4,1772.1 1204.2,1786.7" fill="#929292"/>
<ellipse cx="1136.1" cy="1938.8" rx="43.5" ry="24.2" transform="rotate(12.3 1136.1 1938.8)" fill="#989898"/>
<polygon points="1166.3,1925.8 1114.1,1914.5 1145.5,1770.0 1197.7,1781.4" fill="#989898"/>
<ellipse cx="1136.7" cy="1936.2" rx="39.4" ry="22.0" transform="rotate(12.3 1136.7 1936.2)" fill="#9f9f9f"/>
<polygon points="1155.6,1919.6 1126.4,1913.2 1157.8,1768.7 1187.0,1775.1" fill="#9f9f9f"/>
<ellipse cx="1137.3" cy="1933.6" rx="34.5" ry="19.2" transform="rotate(12.3 1137.3 1933.6)" fill="#a6a6a6"/>
<ellipse cx="1137.8" cy="1931.0" rx="28.4" ry="15.8" transform="rotate(12.3 1137.8 1931.0)" fill="#acacac"/>
<ellipse cx="1138.4" cy="1928.3" rx="19.8" ry="11.0" transform="rotate(12.3 1138.4 1928.3)" fill="#b3b3b3"/>
</g>
<circle cx="1133.8" cy="1949.5" r="16.1" fill="url(#spC)"/>
</g>
<clipPath id="clC2"><circle cx="1072.5" cy="2119.1" r="66.8"/></clipPath>
<g clip-path="url(#clC2)"><g filter="url(#sblur)">
<circle cx="1072.5" cy="2119.1" r="66.8" fill="#2b2b2b"/>
<ellipse cx="1072.6" cy="2118.8" rx="66.8" ry="37.2" transform="rotate(12.3 1072.6 2118.8)" fill="#2e2e2e"/>
<polygon points="1137.9,2132.9 1007.3,2104.5 1038.5,1960.9 1169.1,1989.3" fill="#2e2e2e"/>
<ellipse cx="1072.9" cy="2117.5" rx="66.8" ry="37.2" transform="rotate(12.3 1072.9 2117.5)" fill="#323232"/>
<polygon points="1138.2,2130.9 1007.8,2102.6 1039.0,1959.0 1169.5,1987.3" fill="#323232"/>
<ellipse cx="1073.2" cy="2115.9" rx="66.7" ry="37.1" transform="rotate(12.3 1073.2 2115.9)" fill="#363636"/>
<polygon points="1138.6,2128.6 1008.4,2100.3 1039.6,1956.7 1169.8,1985.0" fill="#363636"/>
<ellipse cx="1073.6" cy="2114.1" rx="66.5" ry="37.0" transform="rotate(12.3 1073.6 2114.1)" fill="#3b3b3b"/>
<polygon points="1138.9,2126.0 1009.2,2097.8 1040.4,1954.2 1170.2,1982.4" fill="#3b3b3b"/>
<ellipse cx="1074.0" cy="2112.3" rx="66.3" ry="36.9" transform="rotate(12.3 1074.0 2112.3)" fill="#404040"/>
<polygon points="1139.2,2123.2 1010.1,2095.2 1041.3,1951.6 1170.4,1979.6" fill="#404040"/>
<ellipse cx="1074.4" cy="2110.3" rx="65.9" ry="36.7" transform="rotate(12.3 1074.4 2110.3)" fill="#454545"/>
<polygon points="1139.3,2120.3 1011.2,2092.5 1042.5,1948.9 1170.5,1976.7" fill="#454545"/>
<ellipse cx="1074.8" cy="2108.3" rx="65.5" ry="36.5" transform="rotate(12.3 1074.8 2108.3)" fill="#4a4a4a"/>
<polygon points="1139.3,2117.2 1012.5,2089.7 1043.7,1946.1 1170.5,1973.6" fill="#4a4a4a"/>
<ellipse cx="1075.3" cy="2106.2" rx="64.9" ry="36.1" transform="rotate(12.3 1075.3 2106.2)" fill="#4f4f4f"/>
<polygon points="1139.1,2114.0 1014.0,2086.9 1045.2,1943.2 1170.3,1970.4" fill="#4f4f4f"/>
<ellipse cx="1075.8" cy="2104.1" rx="64.2" ry="35.7" transform="rotate(12.3 1075.8 2104.1)" fill="#555555"/>
<polygon points="1138.8,2110.7 1015.7,2084.0 1046.9,1940.4 1170.0,1967.1" fill="#555555"/>
<ellipse cx="1076.2" cy="2101.9" rx="63.3" ry="35.3" transform="rotate(12.3 1076.2 2101.9)" fill="#5b5b5b"/>
<polygon points="1138.2,2107.3 1017.6,2081.0 1048.8,1937.4 1169.5,1963.7" fill="#5b5b5b"/>
<ellipse cx="1076.7" cy="2099.6" rx="62.4" ry="34.7" transform="rotate(12.3 1076.7 2099.6)" fill="#606060"/>
<polygon points="1137.5,2103.7 1019.8,2078.1 1051.0,1934.5 1168.7,1960.1" fill="#606060"/>
<ellipse cx="1077.2" cy="2097.4" rx="61.2" ry="34.1" transform="rotate(12.3 1077.2 2097.4)" fill="#666666"/>
<polygon points="1136.5,2100.0 1022.2,2075.2 1053.4,1931.6 1167.7,1956.4" fill="#666666"/>
<ellipse cx="1077.7" cy="2095.0" rx="59.9" ry="33.3" transform="rotate(12.3 1077.7 2095.0)" fill="#6c6c6c"/>
<polygon points="1135.3,2096.2 1024.9,2072.2 1056.1,1928.6 1166.5,1952.6" fill="#6c6c6c"/>
<ellipse cx="1078.2" cy="2092.7" rx="58.3" ry="32.5" transform="rotate(12.3 1078.2 2092.7)" fill="#727272"/>
<polygon points="1133.7,2092.3 1028.0,2069.3 1059.2,1925.7 1164.9,1948.7" fill="#727272"/>
<ellipse cx="1078.8" cy="2090.3" rx="56.6" ry="31.5" transform="rotate(12.3 1078.8 2090.3)" fill="#787878"/>
<polygon points="1131.7,2088.2 1031.4,2066.4 1062.7,1922.8 1162.9,1944.6" fill="#787878"/>
<ellipse cx="1079.3" cy="2087.8" rx="54.6" ry="30.4" transform="rotate(12.3 1079.3 2087.8)" fill="#7f7f7f"/>
<polygon points="1129.3,2084.0 1035.4,2063.6 1066.6,1920.0 1160.5,1940.4" fill="#7f7f7f"/>
<ellipse cx="1079.8" cy="2085.4" rx="52.3" ry="29.1" transform="rotate(12.3 1079.8 2085.4)" fill="#858585"/>
<polygon points="1126.4,2079.6 1039.9,2060.8 1071.1,1917.2 1157.6,1936.0" fill="#858585"/>
<ellipse cx="1080.4" cy="2082.9" rx="49.7" ry="27.7" transform="rotate(12.3 1080.4 2082.9)" fill="#8b8b8b"/>
<polygon points="1122.7,2075.0 1045.2,2058.1 1076.4,1914.5 1153.9,1931.4" fill="#8b8b8b"/>
<ellipse cx="1080.9" cy="2080.3" rx="46.7" ry="26.0" transform="rotate(12.3 1080.9 2080.3)" fill="#929292"/>
<polygon points="1117.9,2070.1 1051.5,2055.7 1082.7,1912.1 1149.2,1926.5" fill="#929292"/>
<ellipse cx="1081.5" cy="2077.8" rx="43.2" ry="24.1" transform="rotate(12.3 1081.5 2077.8)" fill="#989898"/>
<polygon points="1111.5,2064.8 1059.6,2053.6 1090.8,1910.0 1142.7,1921.2" fill="#989898"/>
<ellipse cx="1082.0" cy="2075.2" rx="39.2" ry="21.8" transform="rotate(12.3 1082.0 2075.2)" fill="#9f9f9f"/>
<polygon points="1100.9,2058.6 1071.8,2052.3 1103.0,1908.7 1132.1,1915.0" fill="#9f9f9f"/>
<ellipse cx="1082.6" cy="2072.6" rx="34.3" ry="19.1" transform="rotate(12.3 1082.6 2072.6)" fill="#a6a6a6"/>
<ellipse cx="1083.2" cy="2070.0" rx="28.2" ry="15.7" transform="rotate(12.3 1083.2 2070.0)" fill="#acacac"/>
<ellipse cx="1083.8" cy="2067.3" rx="19.7" ry="11.0" transform="rotate(12.3 1083.8 2067.3)" fill="#b3b3b3"/>
</g>
<circle cx="1079.2" cy="2088.4" r="16.0" fill="url(#spC)"/>
</g>
<linearGradient id="bgD" gradientUnits="userSpaceOnUse" x1="1356.0" y1="2005.8" x2="1317.5" y2="1990.6"><stop offset="0.000" stop-color="#2b2b2b"/><stop offset="0.083" stop-color="#383838"/><stop offset="0.167" stop-color="#434343"/><stop offset="0.250" stop-color="#4b4b4b"/><stop offset="0.333" stop-color="#505050"/><stop offset="0.417" stop-color="#545454"/><stop offset="0.500" stop-color="#575757"/><stop offset="0.583" stop-color="#595959"/><stop offset="0.667" stop-color="#595959"/><stop offset="0.750" stop-color="#585858"/><stop offset="0.833" stop-color="#555555"/><stop offset="0.917" stop-color="#4f4f4f"/><stop offset="1.000" stop-color="#393939"/></linearGradient><polygon points="1334.7,1947.1 1300.4,2034.1 1338.8,2049.3 1373.1,1962.3" fill="url(#bgD)"/>
<clipPath id="clD1"><circle cx="1353.9" cy="1954.7" r="42.4"/></clipPath>
<g clip-path="url(#clD1)"><g filter="url(#sblur)">
<circle cx="1353.9" cy="1954.7" r="42.4" fill="#212121"/>
<ellipse cx="1353.9" cy="1954.5" rx="42.4" ry="22.2" transform="rotate(10.6 1353.9 1954.5)" fill="#232323"/>
<polygon points="1395.6,1962.3 1312.3,1946.6 1329.5,1855.0 1412.8,1870.6" fill="#232323"/>
<ellipse cx="1354.1" cy="1953.6" rx="42.4" ry="22.2" transform="rotate(10.6 1354.1 1953.6)" fill="#262626"/>
<polygon points="1395.8,1961.0 1312.5,1945.4 1329.7,1853.7 1413.0,1869.4" fill="#262626"/>
<ellipse cx="1354.3" cy="1952.6" rx="42.3" ry="22.1" transform="rotate(10.6 1354.3 1952.6)" fill="#292929"/>
<polygon points="1396.0,1959.6 1312.9,1944.0 1330.1,1852.3 1413.2,1867.9" fill="#292929"/>
<ellipse cx="1354.5" cy="1951.4" rx="42.2" ry="22.1" transform="rotate(10.6 1354.5 1951.4)" fill="#2d2d2d"/>
<polygon points="1396.2,1958.0 1313.3,1942.5 1330.5,1850.8 1413.4,1866.3" fill="#2d2d2d"/>
<ellipse cx="1354.7" cy="1950.2" rx="42.1" ry="22.0" transform="rotate(10.6 1354.7 1950.2)" fill="#303030"/>
<polygon points="1396.3,1956.3 1313.8,1940.8 1331.0,1849.1 1413.5,1864.6" fill="#303030"/>
<ellipse cx="1355.0" cy="1949.0" rx="41.8" ry="21.9" transform="rotate(10.6 1355.0 1949.0)" fill="#343434"/>
<polygon points="1396.3,1954.5 1314.5,1939.1 1331.7,1847.4 1413.5,1862.8" fill="#343434"/>
<ellipse cx="1355.2" cy="1947.6" rx="41.6" ry="21.7" transform="rotate(10.6 1355.2 1947.6)" fill="#383838"/>
<polygon points="1396.2,1952.6 1315.2,1937.4 1332.4,1845.7 1413.4,1860.9" fill="#383838"/>
<ellipse cx="1355.5" cy="1946.3" rx="41.2" ry="21.5" transform="rotate(10.6 1355.5 1946.3)" fill="#3c3c3c"/>
<polygon points="1396.1,1950.6 1316.1,1935.6 1333.2,1843.9 1413.3,1858.9" fill="#3c3c3c"/>
<ellipse cx="1355.7" cy="1944.9" rx="40.7" ry="21.3" transform="rotate(10.6 1355.7 1944.9)" fill="#404040"/>
<polygon points="1395.9,1948.6 1317.0,1933.8 1334.2,1842.1 1413.0,1856.9" fill="#404040"/>
<ellipse cx="1356.0" cy="1943.4" rx="40.2" ry="21.0" transform="rotate(10.6 1356.0 1943.4)" fill="#444444"/>
<polygon points="1395.5,1946.4 1318.1,1931.9 1335.3,1840.2 1412.7,1854.8" fill="#444444"/>
<ellipse cx="1356.3" cy="1942.0" rx="39.6" ry="20.7" transform="rotate(10.6 1356.3 1942.0)" fill="#484848"/>
<polygon points="1395.0,1944.2 1319.4,1930.1 1336.6,1838.4 1412.2,1852.6" fill="#484848"/>
<ellipse cx="1356.6" cy="1940.5" rx="38.8" ry="20.3" transform="rotate(10.6 1356.6 1940.5)" fill="#4d4d4d"/>
<polygon points="1394.4,1942.0 1320.8,1928.2 1338.0,1836.5 1411.5,1850.3" fill="#4d4d4d"/>
<ellipse cx="1356.9" cy="1938.9" rx="38.0" ry="19.9" transform="rotate(10.6 1356.9 1938.9)" fill="#515151"/>
<polygon points="1393.5,1939.7 1322.4,1926.3 1339.6,1834.6 1410.7,1848.0" fill="#515151"/>
<ellipse cx="1357.1" cy="1937.4" rx="37.0" ry="19.4" transform="rotate(10.6 1357.1 1937.4)" fill="#555555"/>
<polygon points="1392.6,1937.3 1324.2,1924.5 1341.4,1832.8 1409.7,1845.6" fill="#555555"/>
<ellipse cx="1357.4" cy="1935.8" rx="35.9" ry="18.8" transform="rotate(10.6 1357.4 1935.8)" fill="#5a5a5a"/>
<polygon points="1391.3,1934.8 1326.2,1922.6 1343.4,1830.9 1408.5,1843.1" fill="#5a5a5a"/>
<ellipse cx="1357.7" cy="1934.2" rx="34.6" ry="18.1" transform="rotate(10.6 1357.7 1934.2)" fill="#5e5e5e"/>
<polygon points="1389.9,1932.3 1328.5,1920.7 1345.7,1829.1 1407.1,1840.6" fill="#5e5e5e"/>
<ellipse cx="1358.0" cy="1932.6" rx="33.2" ry="17.4" transform="rotate(10.6 1358.0 1932.6)" fill="#636363"/>
<polygon points="1388.1,1929.6 1331.1,1918.9 1348.3,1827.3 1405.3,1837.9" fill="#636363"/>
<ellipse cx="1358.4" cy="1931.0" rx="31.5" ry="16.5" transform="rotate(10.6 1358.4 1931.0)" fill="#686868"/>
<polygon points="1385.9,1926.9 1334.2,1917.2 1351.4,1825.5 1403.1,1835.2" fill="#686868"/>
<ellipse cx="1358.7" cy="1929.3" rx="29.6" ry="15.5" transform="rotate(10.6 1358.7 1929.3)" fill="#6d6d6d"/>
<polygon points="1383.1,1924.0 1337.8,1915.5 1355.0,1823.8 1400.3,1832.3" fill="#6d6d6d"/>
<ellipse cx="1359.0" cy="1927.6" rx="27.4" ry="14.4" transform="rotate(10.6 1359.0 1927.6)" fill="#717171"/>
<polygon points="1379.5,1920.9 1342.2,1913.9 1359.4,1822.3 1396.7,1829.3" fill="#717171"/>
<ellipse cx="1359.3" cy="1925.9" rx="24.9" ry="13.0" transform="rotate(10.6 1359.3 1925.9)" fill="#767676"/>
<polygon points="1374.3,1917.5 1348.3,1912.7 1365.5,1821.0 1391.5,1825.9" fill="#767676"/>
<ellipse cx="1359.6" cy="1924.2" rx="21.8" ry="11.4" transform="rotate(10.6 1359.6 1924.2)" fill="#7b7b7b"/>
<ellipse cx="1359.9" cy="1922.5" rx="17.9" ry="9.4" transform="rotate(10.6 1359.9 1922.5)" fill="#808080"/>
<ellipse cx="1360.3" cy="1920.8" rx="12.5" ry="6.5" transform="rotate(10.6 1360.3 1920.8)" fill="#858585"/>
</g>
<circle cx="1357.7" cy="1934.3" r="10.2" fill="url(#spD)"/>
</g>
<clipPath id="clD2"><circle cx="1319.6" cy="2041.7" r="42.0"/></clipPath>
<g clip-path="url(#clD2)"><g filter="url(#sblur)">
<circle cx="1319.6" cy="2041.7" r="42.0" fill="#212121"/>
<ellipse cx="1319.6" cy="2041.5" rx="42.0" ry="22.0" transform="rotate(10.6 1319.6 2041.5)" fill="#232323"/>
<polygon points="1360.9,2049.2 1278.4,2033.7 1295.4,1942.9 1378.0,1958.4" fill="#232323"/>
<ellipse cx="1319.8" cy="2040.6" rx="42.0" ry="22.0" transform="rotate(10.6 1319.8 2040.6)" fill="#262626"/>
<polygon points="1361.1,2048.0 1278.6,2032.5 1295.6,1941.7 1378.2,1957.2" fill="#262626"/>
<ellipse cx="1320.0" cy="2039.6" rx="41.9" ry="21.9" transform="rotate(10.6 1320.0 2039.6)" fill="#292929"/>
<polygon points="1361.3,2046.5 1279.0,2031.1 1296.0,1940.3 1378.3,1955.7" fill="#292929"/>
<ellipse cx="1320.2" cy="2038.5" rx="41.8" ry="21.9" transform="rotate(10.6 1320.2 2038.5)" fill="#2d2d2d"/>
<polygon points="1361.5,2045.0 1279.4,2029.6 1296.4,1938.8 1378.5,1954.1" fill="#2d2d2d"/>
<ellipse cx="1320.4" cy="2037.3" rx="41.7" ry="21.8" transform="rotate(10.6 1320.4 2037.3)" fill="#303030"/>
<polygon points="1361.6,2043.3 1279.9,2028.0 1296.9,1937.1 1378.6,1952.4" fill="#303030"/>
<ellipse cx="1320.7" cy="2036.0" rx="41.4" ry="21.7" transform="rotate(10.6 1320.7 2036.0)" fill="#343434"/>
<polygon points="1361.6,2041.5 1280.5,2026.3 1297.6,1935.5 1378.6,1950.7" fill="#343434"/>
<ellipse cx="1320.9" cy="2034.7" rx="41.2" ry="21.5" transform="rotate(10.6 1320.9 2034.7)" fill="#383838"/>
<polygon points="1361.5,2039.6 1281.3,2024.5 1298.3,1933.7 1378.6,1948.8" fill="#383838"/>
<ellipse cx="1321.2" cy="2033.3" rx="40.8" ry="21.3" transform="rotate(10.6 1321.2 2033.3)" fill="#3c3c3c"/>
<polygon points="1361.4,2037.6 1282.1,2022.8 1299.1,1932.0 1378.4,1946.8" fill="#3c3c3c"/>
<ellipse cx="1321.4" cy="2032.0" rx="40.4" ry="21.1" transform="rotate(10.6 1321.4 2032.0)" fill="#404040"/>
<polygon points="1361.2,2035.6 1283.1,2021.0 1300.1,1930.2 1378.2,1944.8" fill="#404040"/>
<ellipse cx="1321.7" cy="2030.5" rx="39.8" ry="20.8" transform="rotate(10.6 1321.7 2030.5)" fill="#444444"/>
<polygon points="1360.8,2033.5 1284.2,2019.1 1301.2,1928.3 1377.8,1942.7" fill="#444444"/>
<ellipse cx="1322.0" cy="2029.1" rx="39.2" ry="20.5" transform="rotate(10.6 1322.0 2029.1)" fill="#484848"/>
<polygon points="1360.3,2031.3 1285.4,2017.3 1302.4,1926.5 1377.3,1940.5" fill="#484848"/>
<ellipse cx="1322.2" cy="2027.6" rx="38.5" ry="20.1" transform="rotate(10.6 1322.2 2027.6)" fill="#4d4d4d"/>
<polygon points="1359.7,2029.1 1286.8,2015.5 1303.8,1924.6 1376.7,1938.3" fill="#4d4d4d"/>
<ellipse cx="1322.5" cy="2026.1" rx="37.6" ry="19.7" transform="rotate(10.6 1322.5 2026.1)" fill="#515151"/>
<polygon points="1358.9,2026.8 1288.4,2013.6 1305.4,1922.8 1375.9,1936.0" fill="#515151"/>
<ellipse cx="1322.8" cy="2024.5" rx="36.7" ry="19.2" transform="rotate(10.6 1322.8 2024.5)" fill="#555555"/>
<polygon points="1357.9,2024.4 1290.2,2011.7 1307.2,1920.9 1374.9,1933.6" fill="#555555"/>
<ellipse cx="1323.1" cy="2023.0" rx="35.6" ry="18.6" transform="rotate(10.6 1323.1 2023.0)" fill="#5a5a5a"/>
<polygon points="1356.7,2022.0 1292.2,2009.9 1309.2,1919.1 1373.7,1931.2" fill="#5a5a5a"/>
<ellipse cx="1323.4" cy="2021.4" rx="34.3" ry="17.9" transform="rotate(10.6 1323.4 2021.4)" fill="#5e5e5e"/>
<polygon points="1355.2,2019.5 1294.4,2008.1 1311.5,1917.2 1372.3,1928.6" fill="#5e5e5e"/>
<ellipse cx="1323.7" cy="2019.8" rx="32.9" ry="17.2" transform="rotate(10.6 1323.7 2019.8)" fill="#636363"/>
<polygon points="1353.5,2016.8 1297.0,2006.3 1314.1,1915.5 1370.5,1926.0" fill="#636363"/>
<ellipse cx="1324.0" cy="2018.2" rx="31.2" ry="16.3" transform="rotate(10.6 1324.0 2018.2)" fill="#686868"/>
<polygon points="1351.3,2014.1 1300.1,2004.5 1317.1,1913.7 1368.3,1923.3" fill="#686868"/>
<ellipse cx="1324.3" cy="2016.5" rx="29.4" ry="15.4" transform="rotate(10.6 1324.3 2016.5)" fill="#6d6d6d"/>
<polygon points="1348.6,2011.3 1303.6,2002.9 1320.7,1912.0 1365.6,1920.5" fill="#6d6d6d"/>
<ellipse cx="1324.6" cy="2014.9" rx="27.2" ry="14.2" transform="rotate(10.6 1324.6 2014.9)" fill="#717171"/>
<polygon points="1345.0,2008.3 1308.0,2001.3 1325.1,1910.5 1362.0,1917.4" fill="#717171"/>
<ellipse cx="1324.9" cy="2013.2" rx="24.6" ry="12.9" transform="rotate(10.6 1324.9 2013.2)" fill="#767676"/>
<polygon points="1339.8,2004.9 1314.1,2000.1 1331.1,1909.2 1356.9,1914.1" fill="#767676"/>
<ellipse cx="1325.3" cy="2011.5" rx="21.6" ry="11.3" transform="rotate(10.6 1325.3 2011.5)" fill="#7b7b7b"/>
<ellipse cx="1325.6" cy="2009.8" rx="17.7" ry="9.3" transform="rotate(10.6 1325.6 2009.8)" fill="#808080"/>
<ellipse cx="1325.9" cy="2008.1" rx="12.4" ry="6.5" transform="rotate(10.6 1325.9 2008.1)" fill="#858585"/>
</g>
<circle cx="1323.4" cy="2021.5" r="10.1" fill="url(#spD)"/>
</g>
<g fill="none" stroke-linecap="round">
<path stroke="#909090" stroke-width="1.80" d="M3171.6,1764.3L3165.7,1779.1M3171.6,1764.3L3167.2,1741.0M3162.7,1801.9L3149.8,1813.7M3162.7,1801.9L3165.7,1779.1M3140.0,1833.1L3121.8,1839.6M3140.0,1833.1L3149.8,1813.7M3107.1,1853.3L3086.0,1852.8M3107.1,1853.3L3121.8,1839.6M3068.9,1859.4L3047.9,1851.4M3068.9,1859.4L3086.0,1852.8M3031.4,1850.4L3013.3,1835.4M3031.4,1850.4L3047.9,1851.4M3000.1,1827.8L2987.4,1807.5M3000.1,1827.8L3013.3,1835.4M3165.6,1726.1L3167.2,1741.0M3165.7,1779.1L3159.3,1770.5M3149.8,1813.7L3143.8,1804.2M3121.8,1839.6L3116.5,1829.5M3086.0,1852.8L3081.7,1842.4M3047.9,1851.4L3044.5,1840.9M3013.3,1835.4L3010.8,1825.4M3167.2,1741.0L3160.8,1733.3M3159.3,1770.5L3158.8,1748.1M3159.3,1770.5L3150.2,1783.8M3143.8,1804.2L3150.2,1783.8M3143.8,1804.2L3128.7,1813.5M3116.5,1829.5L3128.7,1813.5M3116.5,1829.5L3097.4,1832.7M3081.7,1842.4L3097.4,1832.7M3081.7,1842.4L3061.2,1838.4M3044.5,1840.9L3061.2,1838.4M3044.5,1840.9L3025.5,1829.9M3010.8,1825.4L3025.5,1829.9M3010.8,1825.4L2995.8,1808.4M3160.8,1733.3L3153.0,1711.8M3160.8,1733.3L3158.8,1748.1M3158.8,1748.1L3152.8,1740.5M3150.2,1783.8L3144.5,1775.4M3128.7,1813.5L3123.5,1804.4M3097.4,1832.7L3092.9,1823.1M3061.2,1838.4L3057.6,1828.7M3025.5,1829.9L3022.7,1820.4M2995.8,1808.4L2993.8,1799.4M3152.8,1740.5L3147.5,1754.5M3152.8,1740.5L3148.9,1719.2M3144.5,1775.4L3132.7,1786.7M3144.5,1775.4L3147.5,1754.5M3123.5,1804.4L3106.8,1810.7M3123.5,1804.4L3132.7,1786.7M3092.9,1823.1L3073.6,1823.0M3092.9,1823.1L3106.8,1810.7M3057.6,1828.7L3038.2,1821.6M3057.6,1828.7L3073.6,1823.0M3022.7,1820.4L3006.1,1806.8M3022.7,1820.4L3038.2,1821.6M2993.8,1799.4L3006.1,1806.8M3147.5,1754.5L3142.0,1747.1M3132.7,1786.7L3127.6,1778.5M3106.8,1810.7L3102.2,1802.0M3073.6,1823.0L3069.8,1814.0M3038.2,1821.6L3035.3,1812.6M3006.1,1806.8L3003.9,1798.2M3148.9,1719.2L3143.4,1712.6M3142.0,1747.1L3141.7,1726.5M3142.0,1747.1L3133.8,1759.7M3127.6,1778.5L3133.8,1759.7M3127.6,1778.5L3113.7,1787.4M3102.2,1802.0L3113.7,1787.4M3102.2,1802.0L3084.6,1805.3M3069.8,1814.0L3084.6,1805.3M3069.8,1814.0L3050.9,1810.6M3035.3,1812.6L3050.9,1810.6M3035.3,1812.6L3017.7,1802.7M3003.9,1798.2L3017.7,1802.7M3003.9,1798.2L2990.0,1782.6M3143.4,1712.6L3141.7,1726.5M3141.7,1726.5L3136.5,1720.0M3133.8,1759.7L3128.8,1752.5M3113.7,1787.4L3109.2,1779.5M3084.6,1805.3L3080.7,1797.0M3050.9,1810.6L3047.8,1802.2M3017.7,1802.7L3015.3,1794.4M2990.0,1782.6L2988.3,1774.8M3136.5,1720.0L3131.8,1733.3M3136.5,1720.0L3133.0,1700.3M3128.8,1752.5L3118.0,1763.3M3128.8,1752.5L3131.8,1733.3M3109.2,1779.5L3093.8,1785.7M3109.2,1779.5L3118.0,1763.3M3080.7,1797.0L3062.8,1797.1M3080.7,1797.0L3093.8,1785.7M3047.8,1802.2L3029.8,1795.9M3047.8,1802.2L3062.8,1797.1M3015.3,1794.4L2999.8,1782.1M3015.3,1794.4L3029.8,1795.9M2988.3,1774.8L2999.8,1782.1M3131.8,1733.3L3127.0,1726.8M3118.0,1763.3L3113.5,1756.1M3093.8,1785.7L3089.8,1778.1M3062.8,1797.1L3059.5,1789.3M3029.8,1795.9L3027.3,1788.0M2999.8,1782.1L2997.9,1774.6M3133.0,1700.3L3128.2,1694.6M3127.0,1726.8L3126.9,1707.8M3127.0,1726.8L3119.4,1738.9M3113.5,1756.1L3119.4,1738.9M3113.5,1756.1L3100.7,1764.7M3089.8,1778.1L3100.7,1764.7M3089.8,1778.1L3073.5,1781.4M3059.5,1789.3L3073.5,1781.4M3059.5,1789.3L3041.9,1786.4M3027.3,1788.0L3041.9,1786.4M3027.3,1788.0L3010.9,1779.0M2997.9,1774.6L3010.9,1779.0M2997.9,1774.6L2985.0,1760.3M3128.2,1694.6L3126.9,1707.8M3126.9,1707.8L3122.3,1702.1M3119.4,1738.9L3115.1,1732.5M3100.7,1764.7L3096.7,1757.8M3073.5,1781.4L3070.1,1774.1M3041.9,1786.4L3039.2,1779.1M3010.9,1779.0L3008.8,1771.8M2985.0,1760.3L2983.5,1753.4M3122.3,1702.1L3118.0,1714.7M3122.3,1702.1L3119.2,1683.8M3115.1,1732.5L3105.1,1742.8M3115.1,1732.5L3118.0,1714.7M3096.7,1757.8L3082.4,1763.8M3096.7,1757.8L3105.1,1742.8M3070.1,1774.1L3053.4,1774.6M3070.1,1774.1L3082.4,1763.8M3039.2,1779.1L3022.5,1773.4M3039.2,1779.1L3053.4,1774.6M3008.8,1771.8L2994.4,1760.4M3008.8,1771.8L3022.5,1773.4M2983.5,1753.4L2994.4,1760.4M3118.0,1714.7L3113.8,1709.0M3105.1,1742.8L3101.2,1736.5M3082.4,1763.8L3078.9,1757.1M3053.4,1774.6L3050.5,1767.6M3022.5,1773.4L3020.2,1766.5M2994.4,1760.4L2992.7,1753.8M3119.2,1683.8L3115.0,1678.7M3113.8,1709.0L3113.8,1691.3M3113.8,1709.0L3106.8,1720.5M3101.2,1736.5L3106.8,1720.5M3101.2,1736.5L3089.2,1744.8M3078.9,1757.1L3089.2,1744.8M3078.9,1757.1L3063.7,1760.5M3050.5,1767.6L3063.7,1760.5M3050.5,1767.6L3034.1,1765.2M3020.2,1766.5L3034.1,1765.2M3020.2,1766.5L3004.9,1758.2M2992.7,1753.8L3004.9,1758.2M2992.7,1753.8L2980.6,1740.6M3115.0,1678.7L3113.8,1691.3M3113.8,1691.3L3109.8,1686.3M3106.8,1720.5L3103.0,1714.9M3089.2,1744.8L3085.7,1738.7M3063.7,1760.5L3060.7,1754.1M3034.1,1765.2L3031.7,1758.7M3004.9,1758.2L3003.1,1751.8M3109.8,1686.3L3105.9,1698.3M3109.8,1686.3L3107.0,1669.2M3103.0,1714.9L3093.7,1724.8M3103.0,1714.9L3105.9,1698.3M3085.7,1738.7L3072.4,1744.5M3085.7,1738.7L3093.7,1724.8M3060.7,1754.1L3045.1,1754.6M3060.7,1754.1L3072.4,1744.5M3031.7,1758.7L3016.0,1753.5M3031.7,1758.7L3045.1,1754.6M3003.1,1751.8L2989.6,1741.4M3003.1,1751.8L3016.0,1753.5M2979.3,1734.6L2989.6,1741.4M3105.9,1698.3L3102.2,1693.3M3093.7,1724.8L3090.2,1719.2M3072.4,1744.5L3069.3,1738.6M3045.1,1754.6L3042.5,1748.5M3016.0,1753.5L3014.0,1747.4M2989.6,1741.4L2988.1,1735.5"/>
<path stroke="#a2a2a2" stroke-width="3.5" d="M3142.0,1747.1h0M3127.6,1778.5h0M3102.2,1802.0h0M3069.8,1814.0h0M3035.3,1812.6h0M3141.7,1726.5h0M3133.8,1759.7h0M3113.7,1787.4h0M3084.6,1805.3h0M3050.9,1810.6h0M3017.7,1802.7h0M2990.0,1782.6h0M3136.5,1720.0h0M3128.8,1752.5h0M3109.2,1779.5h0M3080.7,1797.0h0M3047.8,1802.2h0M3015.3,1794.4h0M2988.3,1774.8h0M3131.8,1733.3h0M3118.0,1763.3h0M3093.8,1785.7h0M3062.8,1797.1h0M3029.8,1795.9h0M2999.8,1782.1h0M3133.0,1700.3h0M3127.0,1726.8h0M3113.5,1756.1h0M3089.8,1778.1h0M3059.5,1789.3h0M3027.3,1788.0h0M2997.9,1774.6h0M3128.2,1694.6h0M3126.9,1707.8h0M3119.4,1738.9h0M3100.7,1764.7h0M3073.5,1781.4h0M3041.9,1786.4h0M3010.9,1779.0h0M2985.0,1760.3h0M3122.3,1702.1h0M3115.1,1732.5h0M3096.7,1757.8h0M3070.1,1774.1h0M3039.2,1779.1h0M3008.8,1771.8h0M2983.5,1753.4h0M3118.0,1714.7h0M3105.1,1742.8h0M3082.4,1763.8h0M3053.4,1774.6h0M3022.5,1773.4h0M2994.4,1760.4h0M3119.2,1683.8h0M3113.8,1709.0h0M3101.2,1736.5h0M3078.9,1757.1h0M3050.5,1767.6h0M3020.2,1766.5h0M2992.7,1753.8h0M3115.0,1678.7h0M3113.8,1691.3h0M3106.8,1720.5h0M3089.2,1744.8h0M3063.7,1760.5h0M3034.1,1765.2h0M3004.9,1758.2h0M2980.6,1740.6h0M3109.8,1686.3h0M3103.0,1714.9h0M3085.7,1738.7h0M3060.7,1754.1h0M3031.7,1758.7h0M3003.1,1751.8h0M3105.9,1698.3h0M3093.7,1724.8h0M3072.4,1744.5h0M3045.1,1754.6h0M3016.0,1753.5h0M2989.6,1741.4h0M3107.0,1669.2h0M3102.2,1693.3h0M3090.2,1719.2h0M3069.3,1738.6h0M3042.5,1748.5h0M3014.0,1747.4h0M2988.1,1735.5h0"/>
<path stroke="#a2a2a2" stroke-width="4.0" d="M3171.6,1764.3h0M3162.7,1801.9h0M3140.0,1833.1h0M3107.1,1853.3h0M3068.9,1859.4h0M3031.4,1850.4h0M3165.7,1779.1h0M3149.8,1813.7h0M3121.8,1839.6h0M3086.0,1852.8h0M3047.9,1851.4h0M3013.3,1835.4h0M3167.2,1741.0h0M3159.3,1770.5h0M3143.8,1804.2h0M3116.5,1829.5h0M3081.7,1842.4h0M3044.5,1840.9h0M3010.8,1825.4h0M3160.8,1733.3h0M3158.8,1748.1h0M3150.2,1783.8h0M3128.7,1813.5h0M3097.4,1832.7h0M3061.2,1838.4h0M3025.5,1829.9h0M2995.8,1808.4h0M3152.8,1740.5h0M3144.5,1775.4h0M3123.5,1804.4h0M3092.9,1823.1h0M3057.6,1828.7h0M3022.7,1820.4h0M2993.8,1799.4h0M3147.5,1754.5h0M3132.7,1786.7h0M3106.8,1810.7h0M3073.6,1823.0h0M3038.2,1821.6h0M3006.1,1806.8h0M3148.9,1719.2h0M3003.9,1798.2h0M3143.4,1712.6h0"/>
<path stroke="#a2a2a2" stroke-width="4.5" d="M3000.1,1827.8h0"/>
<path stroke="#8a8a8a" stroke-width="1.80" d="M3179.5,1797.6L3178.6,1773.1M3179.5,1797.6L3169.4,1811.6M3162.7,1834.2L3169.4,1811.6M3162.7,1834.2L3146.1,1843.7M3133.2,1861.5L3146.1,1843.7M3133.2,1861.5L3112.3,1864.5M3095.5,1875.4L3112.3,1864.5M3095.5,1875.4L3073.1,1870.7M3055.3,1873.9L3073.1,1870.7M3055.3,1873.9L3034.5,1861.5M3018.8,1857.1L3034.5,1861.5M3018.8,1857.1L3002.4,1838.2M2991.4,1827.6L3002.4,1838.2M3181.0,1757.5L3172.4,1733.9M3181.0,1757.5L3178.6,1773.1M3178.6,1773.1L3171.6,1764.3M3169.4,1811.6L3162.7,1801.9M3146.1,1843.7L3140.0,1833.1M3112.3,1864.5L3107.1,1853.3M3073.1,1870.7L3068.9,1859.4M3034.5,1861.5L3031.4,1850.4M3002.4,1838.2L3000.1,1827.8M3172.4,1733.9L3165.6,1726.1M2987.4,1807.5L2985.5,1798.1M2985.5,1798.1L2995.8,1808.4M3153.0,1711.8L3147.2,1705.2M2993.8,1799.4L2982.0,1780.9M3147.2,1705.2L3148.9,1719.2M2982.0,1780.9L2980.4,1772.8M2980.4,1772.8L2990.0,1782.6M3143.4,1712.6L3136.3,1692.8M3136.3,1692.8L3131.3,1687.0M2988.3,1774.8L2977.4,1757.9M3131.3,1687.0L3133.0,1700.3M2977.4,1757.9L2976.0,1750.9M2976.0,1750.9L2985.0,1760.3M3128.2,1694.6L3121.8,1676.3M3121.8,1676.3L3117.4,1671.2M2983.5,1753.4L2973.4,1737.7M3117.4,1671.2L3119.2,1683.8M2972.1,1731.6L2980.6,1740.6M3115.0,1678.7L3109.1,1661.7M2980.6,1740.6L2979.3,1734.6M2979.3,1734.6L2969.8,1720.0M3105.2,1657.3L3107.0,1669.2M3107.0,1669.2L3103.3,1664.8"/>
<path stroke="#9c9c9c" stroke-width="3.5" d="M3131.3,1687.0h0M2977.4,1757.9h0M2976.0,1750.9h0M3121.8,1676.3h0M3117.4,1671.2h0M3109.1,1661.7h0M2979.3,1734.6h0M3103.3,1664.8h0"/>
<path stroke="#9c9c9c" stroke-width="4.0" d="M3112.3,1864.5h0M2985.5,1798.1h0M3153.0,1711.8h0M3147.2,1705.2h0M2982.0,1780.9h0M2980.4,1772.8h0M3136.3,1692.8h0"/>
<path stroke="#9c9c9c" stroke-width="4.5" d="M3178.6,1773.1h0M3169.4,1811.6h0M3146.1,1843.7h0M3073.1,1870.7h0M3034.5,1861.5h0M3002.4,1838.2h0M3165.6,1726.1h0M2987.4,1807.5h0"/>
<path stroke="#848484" stroke-width="1.80" d="M3186.9,1807.7L3179.5,1797.6M3169.7,1845.3L3162.7,1834.2M3139.3,1873.3L3133.2,1861.5M3100.6,1887.7L3095.5,1875.4M3059.3,1886.1L3055.3,1873.9M3021.7,1868.8L3018.8,1857.1M2993.6,1838.5L2991.4,1827.6M3188.5,1766.4L3181.0,1757.5M2979.9,1794.8L2987.4,1807.5M3165.6,1726.1L3153.9,1705.2M2985.5,1798.1L2976.6,1777.1M3147.9,1698.5L3153.0,1711.8M2975.0,1768.9L2982.0,1780.9M3147.2,1705.2L3136.6,1686.0M2980.4,1772.8L2972.1,1753.5M3131.4,1680.2L3136.3,1692.8M2970.8,1746.4L2977.4,1757.9M3131.3,1687.0L3121.6,1669.3M2976.0,1750.9L2968.3,1733.0M3117.0,1664.3L3121.8,1676.3M2967.1,1726.8L2973.4,1737.7M3117.4,1671.2L3108.5,1654.8M2973.4,1737.7L2972.1,1731.6M2972.1,1731.6L2964.9,1715.1M3104.5,1650.3L3109.1,1661.7M3109.1,1661.7L3105.2,1657.3M3105.2,1657.3L3096.9,1642.0M2969.8,1720.0L2968.7,1714.6"/>
<path stroke="#969696" stroke-width="3.5" d="M2973.4,1737.7h0M2972.1,1731.6h0M3105.2,1657.3h0M2969.8,1720.0h0M2968.7,1714.6h0"/>
<path stroke="#969696" stroke-width="4.5" d="M3186.9,1807.7h0M3169.7,1845.3h0M3139.3,1873.3h0M3100.6,1887.7h0M3059.3,1886.1h0M3021.7,1868.8h0M3188.5,1766.4h0M3179.5,1797.6h0M3162.7,1834.2h0M3133.2,1861.5h0M3095.5,1875.4h0M3055.3,1873.9h0M3018.8,1857.1h0M2991.4,1827.6h0M3181.0,1757.5h0M3172.4,1733.9h0"/>
<path stroke="#7e7e7e" stroke-width="1.80" d="M3201.9,1802.5L3193.7,1792.1M3191.9,1844.4L3183.9,1832.9M3166.5,1879.3L3159.3,1866.8M3129.8,1901.9L3123.6,1888.7M3087.2,1908.7L3082.2,1895.3M3045.2,1898.7L3041.4,1885.6M3010.3,1873.3L3007.5,1861.0M3193.7,1792.1L3186.9,1807.7M3193.7,1792.1L3188.5,1766.4M3183.9,1832.9L3169.7,1845.3M3183.9,1832.9L3186.9,1807.7M3159.3,1866.8L3139.3,1873.3M3159.3,1866.8L3169.7,1845.3M3123.6,1888.7L3100.6,1887.7M3123.6,1888.7L3139.3,1873.3M3082.2,1895.3L3059.3,1886.1M3082.2,1895.3L3100.6,1887.7M3041.4,1885.6L3021.7,1868.8M3041.4,1885.6L3059.3,1886.1M3007.5,1861.0L2993.6,1838.5M3007.5,1861.0L3021.7,1868.8M3187.1,1750.7L3188.5,1766.4M2991.4,1827.6L2981.7,1804.4M3167.1,1719.8L3172.4,1733.9M2981.7,1804.4L2979.9,1794.8M3153.9,1705.2L3147.9,1698.5M2976.6,1777.1L2975.0,1768.9M3136.6,1686.0L3131.4,1680.2M2972.1,1753.5L2970.8,1746.4M3121.6,1669.3L3117.0,1664.3M2968.3,1733.0L2967.1,1726.8M3108.5,1654.8L3104.5,1650.3M2963.9,1709.5L2969.8,1720.0M3096.9,1642.0L3093.4,1638.0"/>
<path stroke="#909090" stroke-width="3.5" d="M3117.0,1664.3h0M2968.3,1733.0h0M2967.1,1726.8h0M3108.5,1654.8h0M3104.5,1650.3h0M3096.9,1642.0h0M3093.4,1638.0h0"/>
<path stroke="#909090" stroke-width="4.0" d="M2976.6,1777.1h0M2975.0,1768.9h0M3136.6,1686.0h0M3131.4,1680.2h0M2972.1,1753.5h0M2970.8,1746.4h0M3121.6,1669.3h0"/>
<path stroke="#909090" stroke-width="4.5" d="M3193.7,1792.1h0M3183.9,1832.9h0M3159.3,1866.8h0M3123.6,1888.7h0M3082.2,1895.3h0M3041.4,1885.6h0M2993.6,1838.5h0M2979.9,1794.8h0M3153.9,1705.2h0M3147.9,1698.5h0"/>
<path stroke="#909090" stroke-width="5.0" d="M3007.5,1861.0h0M3187.1,1750.7h0"/>
<path stroke="#787878" stroke-width="1.80" d="M3203.2,1829.7L3201.9,1802.5M3203.2,1829.7L3191.9,1844.4M3184.9,1869.4L3191.9,1844.4M3184.9,1869.4L3166.5,1879.3M3152.8,1899.2L3166.5,1879.3M3152.8,1899.2L3129.8,1901.9M3111.7,1914.4L3129.8,1901.9M3111.7,1914.4L3087.2,1908.7M3068.0,1912.7L3087.2,1908.7M3068.0,1912.7L3045.2,1898.7M3028.2,1894.4L3045.2,1898.7M3028.2,1894.4L3010.3,1873.3M2998.4,1862.3L3010.3,1873.3M3204.9,1785.9L3195.1,1759.8M3204.9,1785.9L3201.9,1802.5M3195.1,1759.8L3187.1,1750.7M2985.6,1825.2L2993.6,1838.5M3187.1,1750.7L3174.2,1727.7M3174.2,1727.7L3167.1,1719.8M2979.9,1794.8L2974.2,1771.7M3145.4,1693.2L3153.9,1705.2M2972.6,1763.3L2976.6,1777.1M3147.9,1698.5L3133.8,1680.5M3128.4,1674.6L3136.6,1686.0M3131.4,1680.2L3118.5,1663.7M3113.8,1658.6L3121.6,1669.3M3117.0,1664.3L3105.1,1649.0M3101.1,1644.6L3108.5,1654.8M3104.5,1650.3L3093.4,1636.2M2964.9,1715.1L2963.9,1709.5M3089.8,1632.2L3096.9,1642.0"/>
<path stroke="#8a8a8a" stroke-width="3.5" d="M2964.9,1715.1h0M2963.9,1709.5h0"/>
<path stroke="#8a8a8a" stroke-width="4.5" d="M3166.5,1879.3h0M3129.8,1901.9h0M3167.1,1719.8h0M2981.7,1804.4h0"/>
<path stroke="#8a8a8a" stroke-width="5.0" d="M3203.2,1829.7h0M3184.9,1869.4h0M3152.8,1899.2h0M3111.7,1914.4h0M3068.0,1912.7h0M3028.2,1894.4h0M2998.4,1862.3h0M3204.9,1785.9h0M3201.9,1802.5h0M3191.9,1844.4h0M3087.2,1908.7h0M3045.2,1898.7h0M3010.3,1873.3h0M3195.1,1759.8h0M3174.2,1727.7h0"/>
<path stroke="#727272" stroke-width="1.80" d="M3219.8,1825.1L3212.1,1841.6M3219.8,1825.1L3213.8,1796.5M3209.2,1869.7L3193.2,1882.6M3209.2,1869.7L3212.1,1841.6M3182.3,1906.8L3160.1,1913.3M3182.3,1906.8L3193.2,1882.6M3143.2,1930.7L3117.8,1928.9M3143.2,1930.7L3160.1,1913.3M3098.0,1937.9L3072.7,1927.2M3098.0,1937.9L3117.8,1928.9M3053.4,1927.3L3031.7,1908.4M3053.4,1927.3L3072.7,1927.2M3016.3,1900.4L3001.0,1875.2M3016.3,1900.4L3031.7,1908.4M3212.6,1779.8L3213.8,1796.5M3212.1,1841.6L3203.2,1829.7M3193.2,1882.6L3184.9,1869.4M3160.1,1913.3L3152.8,1899.2M3117.8,1928.9L3111.7,1914.4M3072.7,1927.2L3068.0,1912.7M3031.7,1908.4L3028.2,1894.4M3001.0,1875.2L2998.4,1862.3M3213.8,1796.5L3204.9,1785.9M2998.4,1862.3L2987.7,1836.6M3189.7,1744.8L3195.1,1759.8M2987.7,1836.6L2985.6,1825.2M2977.5,1789.9L2981.7,1804.4M3167.1,1719.8L3151.6,1700.1M2975.0,1768.9L2969.8,1747.7M2968.4,1740.4L2972.1,1753.5M2970.8,1746.4L2966.0,1726.9M2964.8,1720.6L2968.3,1733.0M2967.1,1726.8L2962.6,1708.7M2961.6,1703.2L2964.9,1715.1M2963.9,1709.5L2959.7,1692.7"/>
<path stroke="#848484" stroke-width="5.0" d="M3209.2,1869.7h0M3182.3,1906.8h0M3143.2,1930.7h0M3098.0,1937.9h0M3053.4,1927.3h0M3212.1,1841.6h0M3193.2,1882.6h0M3160.1,1913.3h0M3117.8,1928.9h0M3072.7,1927.2h0M3031.7,1908.4h0M2987.7,1836.6h0M2985.6,1825.2h0"/>
<path stroke="#848484" stroke-width="5.5" d="M3219.8,1825.1h0M3016.3,1900.4h0M3001.0,1875.2h0M3213.8,1796.5h0"/>
<path stroke="#6c6c6c" stroke-width="1.80" d="M3218.7,1883.5L3209.2,1869.7M3190.9,1921.8L3182.3,1906.8M3150.6,1946.5L3143.2,1930.7M3103.9,1954.0L3098.0,1937.9M3198.1,1754.2L3189.7,1744.8M3189.7,1744.8L3172.5,1723.1M2985.6,1825.2L2979.3,1799.7M3165.2,1715.0L3174.2,1727.7M3151.6,1700.1L3145.4,1693.2M2974.2,1771.7L2972.6,1763.3M3133.8,1680.5L3128.4,1674.6M2969.8,1747.7L2968.4,1740.4M3118.5,1663.7L3113.8,1658.6M2966.0,1726.9L2964.8,1720.6M3105.1,1649.0L3101.1,1644.6M2962.6,1708.7L2961.6,1703.2M3093.4,1636.2L3089.8,1632.2M2959.7,1692.7L2958.8,1687.8"/>
<path stroke="#6c6c6c" stroke-width="2.10" d="M3229.7,1837.5L3219.8,1825.1M3057.9,1943.0L3053.4,1927.3M3019.6,1915.2L3016.3,1900.4M3222.2,1790.8L3212.6,1779.8M2992.3,1861.3L3001.0,1875.2M3212.6,1779.8L3198.1,1754.2"/>
<path stroke="#7e7e7e" stroke-width="3.5" d="M3105.1,1649.0h0M3101.1,1644.6h0M2962.6,1708.7h0M2961.6,1703.2h0M3093.4,1636.2h0M3089.8,1632.2h0M2959.7,1692.7h0M2958.8,1687.8h0"/>
<path stroke="#7e7e7e" stroke-width="4.0" d="M3128.4,1674.6h0M2969.8,1747.7h0M2968.4,1740.4h0M3118.5,1663.7h0M3113.8,1658.6h0M2966.0,1726.9h0M2964.8,1720.6h0"/>
<path stroke="#7e7e7e" stroke-width="4.5" d="M3145.4,1693.2h0M2974.2,1771.7h0M2972.6,1763.3h0M3133.8,1680.5h0"/>
<path stroke="#7e7e7e" stroke-width="5.0" d="M2977.5,1789.9h0M3151.6,1700.1h0"/>
<path stroke="#7e7e7e" stroke-width="5.5" d="M3218.7,1883.5h0M3190.9,1921.8h0M3150.6,1946.5h0M3103.9,1954.0h0M3212.6,1779.8h0M3198.1,1754.2h0M3189.7,1744.8h0"/>
<path stroke="#7e7e7e" stroke-width="6.0" d="M3229.7,1837.5h0M3057.9,1943.0h0M3019.6,1915.2h0M3222.2,1790.8h0"/>
<path stroke="#666666" stroke-width="1.80" d="M2983.2,1821.2L2987.7,1836.6M3172.5,1723.1L3165.2,1715.0M2979.3,1799.7L2977.5,1789.9M3139.7,1690.3L3151.6,1700.1M2973.8,1756.7L2974.2,1771.7M3145.4,1693.2L3128.0,1677.2M2972.6,1763.3L2970.8,1740.8M3122.6,1671.2L3133.8,1680.5M2969.4,1733.5L2969.8,1747.7M3128.4,1674.6L3112.6,1660.0M2968.4,1740.4L2966.8,1719.8M3107.9,1654.8L3118.5,1663.7M2965.6,1713.4L2966.0,1726.9M3113.8,1658.6L3099.2,1645.1M2964.8,1720.6L2963.3,1701.5M3095.1,1640.6L3105.1,1649.0M2962.2,1695.9L2962.6,1708.7M3101.1,1644.6L3087.5,1632.1M2961.6,1703.2L2960.2,1685.4M3083.9,1628.1L3093.4,1636.2M2959.3,1680.5L2959.7,1692.7M3089.8,1632.2L3077.1,1620.6"/>
<path stroke="#666666" stroke-width="2.10" d="M3185.1,1961.3L3176.2,1944.2M3138.5,1978.5L3131.1,1960.9M3231.5,1867.9L3229.7,1837.5M3231.5,1867.9L3218.7,1883.5M3211.5,1911.6L3218.7,1883.5M3211.5,1911.6L3190.9,1921.8M3176.2,1944.2L3190.9,1921.8M3176.2,1944.2L3150.6,1946.5M3131.1,1960.9L3150.6,1946.5M3131.1,1960.9L3103.9,1954.0M3083.1,1959.1L3103.9,1954.0M3083.1,1959.1L3057.9,1943.0M3039.4,1939.0L3057.9,1943.0M3039.4,1939.0L3019.6,1915.2M3006.8,1903.7L3019.6,1915.2M3233.4,1819.9L3222.2,1790.8M3233.4,1819.9L3229.7,1837.5M2994.9,1874.9L2992.3,1861.3M2992.3,1861.3L2985.4,1832.9M3188.7,1740.8L3198.1,1754.2"/>
<path stroke="#666666" stroke-width="2.45" d="M3242.3,1882.4L3231.5,1867.9M3221.5,1927.5L3211.5,1911.6M3088.8,1976.6L3083.1,1959.1M3043.7,1955.9L3039.4,1939.0M3009.9,1919.4L3006.8,1903.7M3244.2,1832.8L3233.4,1819.9M3006.8,1903.7L2994.9,1874.9M3216.7,1774.8L3222.2,1790.8"/>
<path stroke="#787878" stroke-width="5.0" d="M3165.2,1715.0h0M2979.3,1799.7h0"/>
<path stroke="#787878" stroke-width="5.5" d="M2992.3,1861.3h0M3172.5,1723.1h0"/>
<path stroke="#787878" stroke-width="6.0" d="M3231.5,1867.9h0M3211.5,1911.6h0M3176.2,1944.2h0M3131.1,1960.9h0M3083.1,1959.1h0M3039.4,1939.0h0M3233.4,1819.9h0M2994.9,1874.9h0"/>
<path stroke="#787878" stroke-width="6.5" d="M3006.8,1903.7h0"/>
<path stroke="#606060" stroke-width="1.80" d="M2979.0,1783.9L2979.3,1799.7M3165.2,1715.0L3146.1,1697.3M2977.5,1789.9L2975.4,1765.3M3128.0,1677.2L3122.6,1671.2M2970.8,1740.8L2969.4,1733.5M3112.6,1660.0L3107.9,1654.8M2966.8,1719.8L2965.6,1713.4M3099.2,1645.1L3095.1,1640.6M2963.3,1701.5L2962.2,1695.9M3087.5,1632.1L3083.9,1628.1M2960.2,1685.4L2959.3,1680.5M3077.1,1620.6L3074.0,1617.1"/>
<path stroke="#606060" stroke-width="2.10" d="M2985.4,1832.9L2983.2,1821.2M3159.9,1712.7L3172.5,1723.1"/>
<path stroke="#606060" stroke-width="2.45" d="M3251.4,1864.9L3242.3,1882.4M3239.6,1914.0L3221.5,1927.5M3239.6,1914.0L3242.3,1882.4M3210.0,1954.9L3185.1,1961.3M3210.0,1954.9L3221.5,1927.5M3166.9,1981.4L3138.5,1978.5M3166.9,1981.4L3185.1,1961.3M3117.0,1989.3L3088.8,1976.6M3117.0,1989.3L3138.5,1978.5M3067.8,1977.5L3043.7,1955.9M3067.8,1977.5L3088.8,1976.6M3226.9,1786.2L3216.7,1774.8M2990.1,1858.7L2994.9,1874.9M3216.7,1774.8L3197.5,1750.5"/>
<path stroke="#606060" stroke-width="2.80" d="M3251.4,1864.9L3244.2,1832.8M3026.9,1947.9L3009.9,1919.4M3026.9,1947.9L3043.7,1955.9M3000.5,1904.8L3009.9,1919.4M3243.4,1815.0L3244.2,1832.8M3243.4,1815.0L3226.9,1786.2"/>
<path stroke="#727272" stroke-width="3.5" d="M3087.5,1632.1h0M3083.9,1628.1h0M2960.2,1685.4h0M2959.3,1680.5h0M3077.1,1620.6h0M3074.0,1617.1h0"/>
<path stroke="#727272" stroke-width="4.0" d="M3107.9,1654.8h0M2966.8,1719.8h0M2965.6,1713.4h0M3099.2,1645.1h0M3095.1,1640.6h0M2963.3,1701.5h0M2962.2,1695.9h0"/>
<path stroke="#727272" stroke-width="4.5" d="M3128.0,1677.2h0M3122.6,1671.2h0M2970.8,1740.8h0M2969.4,1733.5h0M3112.6,1660.0h0"/>
<path stroke="#727272" stroke-width="5.0" d="M2973.8,1756.7h0"/>
<path stroke="#727272" stroke-width="5.5" d="M2985.4,1832.9h0M2983.2,1821.2h0"/>
<path stroke="#727272" stroke-width="6.0" d="M3188.7,1740.8h0"/>
<path stroke="#727272" stroke-width="6.5" d="M3210.0,1954.9h0M3166.9,1981.4h0M3242.3,1882.4h0M3221.5,1927.5h0M3185.1,1961.3h0M3138.5,1978.5h0M3088.8,1976.6h0M3043.7,1955.9h0M3216.7,1774.8h0"/>
<path stroke="#727272" stroke-width="7.0" d="M3251.4,1864.9h0M3239.6,1914.0h0M3117.0,1989.3h0M3067.8,1977.5h0M3026.9,1947.9h0M3009.9,1919.4h0M3244.2,1832.8h0"/>
<path stroke="#727272" stroke-width="7.5" d="M3243.4,1815.0h0"/>
<path stroke="#5a5a5a" stroke-width="1.80" d="M3146.1,1697.3L3139.7,1690.3M2975.4,1765.3L2973.8,1756.7M2973.8,1756.7L2975.6,1733.6M3114.1,1670.6L3128.0,1677.2M2974.1,1726.2L2970.8,1740.8M3122.6,1671.2L3104.1,1659.0M2969.4,1733.5L2971.1,1712.3M3099.5,1653.6L3112.6,1660.0M2969.8,1705.9L2966.8,1719.8M3107.9,1654.8L3090.8,1643.6M2965.6,1713.4L2967.2,1693.9M3086.8,1639.0L3099.2,1645.1M2966.0,1688.3L2963.3,1701.5M3095.1,1640.6L3079.3,1630.3M2962.2,1695.9L2963.8,1677.8M3075.8,1626.2L3087.5,1632.1M2962.8,1672.9L2960.2,1685.4M3083.9,1628.1L3069.1,1618.6M3069.1,1618.6L3066.0,1615.0M2959.3,1680.5L2960.8,1663.6M3066.0,1615.0L3077.1,1620.6M2960.8,1663.6L2959.9,1659.3"/>
<path stroke="#5a5a5a" stroke-width="2.10" d="M3197.5,1750.5L3188.7,1740.8M2985.1,1816.1L2985.4,1832.9M3188.7,1740.8L3167.5,1721.1M3167.5,1721.1L3159.9,1712.7M2983.2,1821.2L2980.9,1794.0M2980.9,1794.0L2979.0,1783.9"/>
<path stroke="#5a5a5a" stroke-width="2.80" d="M3204.7,1999.1L3220.5,1973.2M3204.7,1999.1L3175.9,2000.6M3154.7,2017.6L3175.9,2000.6M3263.4,1880.0L3251.4,1864.9M3251.2,1930.9L3239.6,1914.0M3220.5,1973.2L3210.0,1954.9M3175.9,2000.6L3166.9,1981.4M3124.2,2008.9L3117.0,1989.3M3073.3,1996.7L3067.8,1977.5M3031.0,1966.0L3026.9,1947.9"/>
<path stroke="#5a5a5a" stroke-width="3.15" d="M3266.0,1914.5L3263.4,1880.0M3266.0,1914.5L3251.2,1930.9M3243.8,1962.9L3251.2,1930.9M3243.8,1962.9L3220.5,1973.2M3154.7,2017.6L3124.2,2008.9M3101.5,2015.5L3124.2,2008.9M3101.5,2015.5L3073.3,1996.7M3053.1,1993.3L3073.3,1996.7M3053.1,1993.3L3031.0,1966.0M3016.9,1954.2L3031.0,1966.0M3268.1,1861.3L3255.1,1828.3M3268.1,1861.3L3263.4,1880.0M3255.1,1828.3L3243.4,1815.0"/>
<path stroke="#6c6c6c" stroke-width="3.5" d="M2962.8,1672.9h0M3069.1,1618.6h0M3066.0,1615.0h0M2960.8,1663.6h0M2959.9,1659.3h0"/>
<path stroke="#6c6c6c" stroke-width="4.0" d="M3075.8,1626.2h0"/>
<path stroke="#6c6c6c" stroke-width="5.0" d="M3139.7,1690.3h0M2975.4,1765.3h0"/>
<path stroke="#6c6c6c" stroke-width="5.5" d="M3159.9,1712.7h0M2980.9,1794.0h0M2979.0,1783.9h0M3146.1,1697.3h0"/>
<path stroke="#6c6c6c" stroke-width="6.5" d="M3197.5,1750.5h0"/>
<path stroke="#6c6c6c" stroke-width="7.0" d="M3226.9,1786.2h0M2990.1,1858.7h0"/>
<path stroke="#6c6c6c" stroke-width="7.5" d="M3263.4,1880.0h0M3251.2,1930.9h0M3220.5,1973.2h0M3175.9,2000.6h0M3124.2,2008.9h0M3073.3,1996.7h0M3000.5,1904.8h0"/>
<path stroke="#6c6c6c" stroke-width="8.0" d="M3031.0,1966.0h0M3255.1,1828.3h0"/>
<path stroke="#545454" stroke-width="1.80" d="M2979.0,1783.9L2980.9,1758.4M3131.2,1690.4L3146.1,1697.3M2980.9,1758.4L2979.0,1749.7M2979.0,1749.7L2975.4,1765.3M3139.7,1690.3L3119.5,1676.8M3119.5,1676.8L3114.1,1670.6M3114.1,1670.6L3093.4,1661.3M2975.6,1733.6L2974.1,1726.2M2974.1,1726.2L2979.3,1705.1M3088.8,1655.7L3104.1,1659.0M3104.1,1659.0L3099.5,1653.6M2977.7,1698.7L2971.1,1712.3M3099.5,1653.6L3080.4,1645.2M2971.1,1712.3L2969.8,1705.9M2969.8,1705.9L2974.7,1686.6M3076.5,1640.4L3090.8,1643.6M3090.8,1643.6L3086.8,1639.0M2973.3,1681.0L2967.2,1693.9M3086.8,1639.0L3069.2,1631.3M2967.2,1693.9L2966.0,1688.3M3069.2,1631.3L3065.8,1627.1M2966.0,1688.3L2970.7,1670.4M3065.8,1627.1L3079.3,1630.3M2970.7,1670.4L2969.5,1665.5M3079.3,1630.3L3075.8,1626.2M2969.5,1665.5L2963.8,1677.8M3075.8,1626.2L3059.4,1619.2M2963.8,1677.8L2962.8,1672.9M3059.4,1619.2L3056.4,1615.4M2962.8,1672.9L2967.2,1656.3M3056.4,1615.4L3069.1,1618.6M2967.2,1656.3L2966.1,1651.9M2966.1,1651.9L2960.8,1663.6M3066.0,1615.0L3050.7,1608.4M3050.7,1608.4L3048.0,1605.1"/>
<path stroke="#545454" stroke-width="2.10" d="M2985.1,1816.1L2987.1,1787.8M3151.6,1713.9L3167.5,1721.1M2984.9,1777.5L2980.9,1794.0M3159.9,1712.7L3137.6,1697.8M3137.6,1697.8L3131.2,1690.4"/>
<path stroke="#545454" stroke-width="2.45" d="M2990.1,1858.7L2987.4,1828.2M3184.1,1739.6L3197.5,1750.5M2987.4,1828.2L2985.1,1816.1"/>
<path stroke="#545454" stroke-width="2.80" d="M3000.5,1904.8L2992.7,1872.8M3217.0,1771.9L3226.9,1786.2M2992.7,1872.8L2990.1,1858.7"/>
<path stroke="#545454" stroke-width="3.15" d="M3256.2,1982.5L3243.8,1962.9M3215.6,2020.1L3204.7,1999.1M3163.8,2039.3L3154.7,2017.6M3108.6,2037.1L3101.5,2015.5M3003.6,1921.4L3000.5,1904.8"/>
<path stroke="#545454" stroke-width="3.50" d="M3279.3,1932.3L3266.0,1914.5M3058.4,2014.0L3053.1,1993.3M3020.8,1973.5L3016.9,1954.2M3281.4,1877.1L3268.1,1861.3M3016.9,1954.2L3003.6,1921.4M3249.6,1811.3L3255.1,1828.3"/>
<path stroke="#666666" stroke-width="3.5" d="M3056.4,1615.4h0M2967.2,1656.3h0M2966.1,1651.9h0M3050.7,1608.4h0M3048.0,1605.1h0"/>
<path stroke="#666666" stroke-width="4.0" d="M3090.8,1643.6h0M3086.8,1639.0h0M2967.2,1693.9h0M2966.0,1688.3h0M3065.8,1627.1h0M2970.7,1670.4h0M3079.3,1630.3h0M2969.5,1665.5h0M2963.8,1677.8h0M3059.4,1619.2h0"/>
<path stroke="#666666" stroke-width="4.5" d="M2974.1,1726.2h0M3104.1,1659.0h0M3099.5,1653.6h0M2971.1,1712.3h0M2969.8,1705.9h0"/>
<path stroke="#666666" stroke-width="5.0" d="M2979.0,1749.7h0M3119.5,1676.8h0M3114.1,1670.6h0M2975.6,1733.6h0"/>
<path stroke="#666666" stroke-width="5.5" d="M3137.6,1697.8h0M3131.2,1690.4h0M2980.9,1758.4h0"/>
<path stroke="#666666" stroke-width="6.0" d="M2985.1,1816.1h0M3167.5,1721.1h0M2984.9,1777.5h0"/>
<path stroke="#666666" stroke-width="6.5" d="M2987.4,1828.2h0"/>
<path stroke="#666666" stroke-width="7.5" d="M3204.7,1999.1h0M3154.7,2017.6h0M2992.7,1872.8h0"/>
<path stroke="#666666" stroke-width="8.0" d="M3266.0,1914.5h0M3243.8,1962.9h0M3101.5,2015.5h0M3053.1,1993.3h0"/>
<path stroke="#666666" stroke-width="8.5" d="M3016.9,1954.2h0M3249.6,1811.3h0M3268.1,1861.3h0M3003.6,1921.4h0"/>
<path stroke="#4e4e4e" stroke-width="1.80" d="M2998.2,1720.9L2995.8,1713.2M3108.6,1680.1L3103.2,1673.5M2979.0,1749.7L2984.7,1726.7M2995.8,1713.2L2984.7,1726.7M2995.8,1713.2L3008.0,1694.6M3025.3,1685.9L3008.0,1694.6M3025.3,1685.9L3041.8,1673.8M3063.0,1671.9L3041.8,1673.8M3063.0,1671.9L3080.9,1667.6M3103.2,1673.5L3080.9,1667.6M3103.2,1673.5L3119.5,1676.8M2984.7,1726.7L2982.8,1719.1M3008.0,1694.6L3005.5,1687.9M3041.8,1673.8L3038.4,1667.6M3080.9,1667.6L3076.5,1661.6M2982.8,1719.1L2991.6,1699.0M2982.8,1719.1L2975.6,1733.6M3005.5,1687.9L3019.5,1673.1M3005.5,1687.9L2991.6,1699.0M3038.4,1667.6L3055.3,1659.8M3038.4,1667.6L3019.5,1673.1M3076.5,1661.6L3093.4,1661.3M3076.5,1661.6L3055.3,1659.8M2991.6,1699.0L2989.6,1692.4M3019.5,1673.1L3016.9,1667.1M3055.3,1659.8L3051.7,1654.2M3093.4,1661.3L3088.8,1655.7M2989.6,1692.4L2979.3,1705.1M2989.6,1692.4L3000.9,1675.4M3016.9,1667.1L3000.9,1675.4M3016.9,1667.1L3032.1,1656.2M3051.7,1654.2L3032.1,1656.2M3051.7,1654.2L3068.4,1650.4M3088.8,1655.7L3068.4,1650.4M2979.3,1705.1L2977.7,1698.7M3000.9,1675.4L2998.7,1669.7M3032.1,1656.2L3029.3,1650.9M3068.4,1650.4L3064.6,1645.3M2977.7,1698.7L2985.9,1680.2M2998.7,1669.7L3011.9,1656.1M2998.7,1669.7L2985.9,1680.2M3029.3,1650.9L3045.1,1643.9M3029.3,1650.9L3011.9,1656.1M3064.6,1645.3L3080.4,1645.2M3064.6,1645.3L3045.1,1643.9M2985.9,1680.2L2984.2,1674.5M3011.9,1656.1L3009.6,1651.0M3045.1,1643.9L3042.0,1639.0M3080.4,1645.2L3076.5,1640.4M2984.2,1674.5L2974.7,1686.6M2984.2,1674.5L2994.8,1658.9M3009.6,1651.0L2994.8,1658.9M3009.6,1651.0L3023.9,1641.1M3042.0,1639.0L3023.9,1641.1M3042.0,1639.0L3057.6,1635.7M3076.5,1640.4L3057.6,1635.7M2974.7,1686.6L2973.3,1681.0M2994.8,1658.9L2992.9,1653.9M3023.9,1641.1L3021.4,1636.5M3057.6,1635.7L3054.3,1631.2M2973.3,1681.0L2981.0,1663.9M2992.9,1653.9L3005.2,1641.5M2992.9,1653.9L2981.0,1663.9M3021.4,1636.5L3036.2,1630.1M3021.4,1636.5L3005.2,1641.5M3054.3,1631.2L3069.2,1631.3M3054.3,1631.2L3036.2,1630.1M2981.0,1663.9L2979.5,1659.0M3005.2,1641.5L3003.2,1637.0M3036.2,1630.1L3033.5,1625.8M2979.5,1659.0L2970.7,1670.4M2979.5,1659.0L2989.5,1644.6M3003.2,1637.0L2989.5,1644.6M3003.2,1637.0L3016.7,1627.9M3033.5,1625.8L3016.7,1627.9M3033.5,1625.8L3048.2,1622.9M3065.8,1627.1L3048.2,1622.9M2989.5,1644.6L2987.8,1640.2M3016.7,1627.9L3014.5,1623.9M3048.2,1622.9L3045.3,1618.9M2969.5,1665.5L2976.7,1649.7M2987.8,1640.2L2999.4,1628.7M2987.8,1640.2L2976.7,1649.7M3014.5,1623.9L3028.4,1618.0M3014.5,1623.9L2999.4,1628.7M3045.3,1618.9L3059.4,1619.2M3045.3,1618.9L3028.4,1618.0M2976.7,1649.7L2975.4,1645.4M2999.4,1628.7L2997.7,1624.8M3028.4,1618.0L3026.1,1614.3M2975.4,1645.4L2967.2,1656.3M2975.4,1645.4L2984.8,1632.0M2997.7,1624.8L2984.8,1632.0M2997.7,1624.8L3010.4,1616.3M3026.1,1614.3L3010.4,1616.3M3026.1,1614.3L3040.0,1611.6M3056.4,1615.4L3040.0,1611.6M2984.8,1632.0L2983.4,1628.1M3010.4,1616.3L3008.4,1612.8M3040.0,1611.6L3037.4,1608.1M2966.1,1651.9L2973.0,1637.2M2983.4,1628.1L2994.3,1617.4M2983.4,1628.1L2973.0,1637.2M3008.4,1612.8L3021.6,1607.3M3008.4,1612.8L2994.3,1617.4M3037.4,1608.1L3050.7,1608.4M3037.4,1608.1L3021.6,1607.3M2973.0,1637.2L2971.8,1633.3M2994.3,1617.4L2992.7,1613.9M3021.6,1607.3L3019.5,1604.0"/>
<path stroke="#4e4e4e" stroke-width="2.10" d="M2987.1,1787.8L2984.9,1777.5M3006.0,1746.8L3003.2,1737.7M3081.4,1700.5L3076.4,1692.7M3126.5,1702.3L3120.2,1694.4M2984.9,1777.5L2991.0,1752.0M3003.2,1737.7L2991.0,1752.0M3003.2,1737.7L3016.3,1717.1M3035.3,1707.9L3016.3,1717.1M3035.3,1707.9L3053.0,1694.5M3076.4,1692.7L3053.0,1694.5M3076.4,1692.7L3095.7,1687.7M3120.2,1694.4L3095.7,1687.7M3120.2,1694.4L3137.6,1697.8M2991.0,1752.0L2988.7,1743.1M3016.3,1717.1L3013.3,1709.2M3053.0,1694.5L3049.1,1687.2M3095.7,1687.7L3090.5,1680.6M2988.7,1743.1L2998.2,1720.9M2988.7,1743.1L2980.9,1758.4M3013.3,1709.2L3028.5,1692.8M3013.3,1709.2L2998.2,1720.9M3049.1,1687.2L3067.3,1678.5M3049.1,1687.2L3028.5,1692.8M3090.5,1680.6L3108.6,1680.1M3090.5,1680.6L3067.3,1678.5M3131.2,1690.4L3108.6,1680.1M3028.5,1692.8L3025.3,1685.9M3067.3,1678.5L3063.0,1671.9"/>
<path stroke="#4e4e4e" stroke-width="2.45" d="M2998.4,1782.2L2995.8,1771.5M3026.2,1743.9L3022.7,1734.4M3066.5,1719.2L3061.7,1710.4M3113.2,1711.7L3107.0,1703.2M3159.2,1722.7L3151.6,1713.9M2995.8,1771.5L3006.0,1746.8M2995.8,1771.5L2987.1,1787.8M3022.7,1734.4L3039.1,1716.2M3022.7,1734.4L3006.0,1746.8M3061.7,1710.4L3081.4,1700.5M3061.7,1710.4L3039.1,1716.2M3107.0,1703.2L3126.5,1702.3M3107.0,1703.2L3081.4,1700.5M3151.6,1713.9L3126.5,1702.3M3039.1,1716.2L3035.3,1707.9"/>
<path stroke="#4e4e4e" stroke-width="2.80" d="M3193.2,1749.7L3184.1,1739.6M2991.9,1810.6L2987.4,1828.2M3184.1,1739.6L3159.2,1722.7"/>
<path stroke="#4e4e4e" stroke-width="3.15" d="M3227.8,1783.7L3217.0,1771.9M2992.5,1854.9L2992.7,1872.8M3217.0,1771.9L3193.2,1749.7"/>
<path stroke="#4e4e4e" stroke-width="3.50" d="M3277.0,1968.5L3256.2,1982.5M3277.0,1968.5L3279.3,1932.3M3244.0,2014.1L3215.6,2020.1M3244.0,2014.1L3256.2,1982.5M3196.0,2043.6L3163.8,2039.3M3196.0,2043.6L3215.6,2020.1M3140.3,2052.4L3108.6,2037.1M3140.3,2052.4L3163.8,2039.3M3085.6,2039.3L3108.6,2037.1M2998.5,1904.2L3003.6,1921.4M3249.6,1811.3L3227.8,1783.7"/>
<path stroke="#4e4e4e" stroke-width="3.85" d="M3290.1,1913.7L3279.3,1932.3M3290.1,1913.7L3281.4,1877.1M3085.6,2039.3L3058.4,2014.0M3040.0,2006.3L3020.8,1973.5M3040.0,2006.3L3058.4,2014.0M3281.3,1858.1L3281.4,1877.1M3262.2,1825.3L3249.6,1811.3"/>
<path stroke="#4e4e4e" stroke-width="4.20" d="M3010.5,1958.3L3020.8,1973.5M3281.3,1858.1L3262.2,1825.3"/>
<path stroke="#606060" stroke-width="3.5" d="M2984.8,1632.0h0M3010.4,1616.3h0M3040.0,1611.6h0M2983.4,1628.1h0M3008.4,1612.8h0M3037.4,1608.1h0M2973.0,1637.2h0M2994.3,1617.4h0M3021.6,1607.3h0M2971.8,1633.3h0M2992.7,1613.9h0M3019.5,1604.0h0"/>
<path stroke="#606060" stroke-width="4.0" d="M2973.3,1681.0h0M2992.9,1653.9h0M3021.4,1636.5h0M3054.3,1631.2h0M2981.0,1663.9h0M3005.2,1641.5h0M3036.2,1630.1h0M3069.2,1631.3h0M2979.5,1659.0h0M3003.2,1637.0h0M3033.5,1625.8h0M2989.5,1644.6h0M3016.7,1627.9h0M3048.2,1622.9h0M2987.8,1640.2h0M3014.5,1623.9h0M3045.3,1618.9h0M2976.7,1649.7h0M2999.4,1628.7h0M3028.4,1618.0h0M2975.4,1645.4h0M2997.7,1624.8h0M3026.1,1614.3h0"/>
<path stroke="#606060" stroke-width="4.5" d="M2979.3,1705.1h0M3068.4,1650.4h0M2977.7,1698.7h0M2998.7,1669.7h0M3029.3,1650.9h0M3064.6,1645.3h0M2985.9,1680.2h0M3011.9,1656.1h0M3045.1,1643.9h0M3080.4,1645.2h0M2984.2,1674.5h0M3009.6,1651.0h0M3042.0,1639.0h0M3076.5,1640.4h0M2974.7,1686.6h0M2994.8,1658.9h0M3023.9,1641.1h0M3057.6,1635.7h0"/>
<path stroke="#606060" stroke-width="5.0" d="M2984.7,1726.7h0M3080.9,1667.6h0M2982.8,1719.1h0M3005.5,1687.9h0M3038.4,1667.6h0M3076.5,1661.6h0M2991.6,1699.0h0M3019.5,1673.1h0M3055.3,1659.8h0M3093.4,1661.3h0M2989.6,1692.4h0M3016.9,1667.1h0M3051.7,1654.2h0M3088.8,1655.7h0M3000.9,1675.4h0M3032.1,1656.2h0"/>
<path stroke="#606060" stroke-width="5.5" d="M2988.7,1743.1h0M3013.3,1709.2h0M3049.1,1687.2h0M3090.5,1680.6h0M2998.2,1720.9h0M3028.5,1692.8h0M3067.3,1678.5h0M3108.6,1680.1h0M2995.8,1713.2h0M3025.3,1685.9h0M3063.0,1671.9h0M3103.2,1673.5h0M3008.0,1694.6h0M3041.8,1673.8h0"/>
<path stroke="#606060" stroke-width="6.0" d="M3151.6,1713.9h0M2987.1,1787.8h0M3006.0,1746.8h0M3126.5,1702.3h0M3003.2,1737.7h0M3035.3,1707.9h0M3076.4,1692.7h0M3120.2,1694.4h0M2991.0,1752.0h0M3016.3,1717.1h0M3053.0,1694.5h0M3095.7,1687.7h0"/>
<path stroke="#606060" stroke-width="6.5" d="M2995.8,1771.5h0M3022.7,1734.4h0M3061.7,1710.4h0M3107.0,1703.2h0M3039.1,1716.2h0M3081.4,1700.5h0"/>
<path stroke="#606060" stroke-width="7.0" d="M3184.1,1739.6h0M2998.4,1782.2h0M3026.2,1743.9h0M3066.5,1719.2h0M3113.2,1711.7h0M3159.2,1722.7h0"/>
<path stroke="#606060" stroke-width="8.0" d="M3217.0,1771.9h0"/>
<path stroke="#606060" stroke-width="8.5" d="M3256.2,1982.5h0M3215.6,2020.1h0M3163.8,2039.3h0M3108.6,2037.1h0M3227.8,1783.7h0"/>
<path stroke="#606060" stroke-width="9.0" d="M3277.0,1968.5h0M3244.0,2014.1h0M3196.0,2043.6h0M3140.3,2052.4h0M3085.6,2039.3h0M3279.3,1932.3h0M3058.4,2014.0h0M3281.4,1877.1h0"/>
<path stroke="#606060" stroke-width="9.5" d="M3290.1,1913.7h0M3040.0,2006.3h0M3020.8,1973.5h0M3262.2,1825.3h0"/>
<path stroke="#606060" stroke-width="10.0" d="M3281.3,1858.1h0"/>
<path stroke="#484848" stroke-width="2.80" d="M2994.6,1823.2L2991.9,1810.6M2991.9,1810.6L2998.4,1782.2M3012.0,1767.0L2998.4,1782.2M3012.0,1767.0L3026.2,1743.9M3047.3,1734.3L3026.2,1743.9M3047.3,1734.3L3066.5,1719.2M3092.4,1717.6L3066.5,1719.2M3092.4,1717.6L3113.2,1711.7M3140.4,1719.5L3113.2,1711.7M3140.4,1719.5L3159.2,1722.7"/>
<path stroke="#484848" stroke-width="3.15" d="M2992.5,1854.9L2994.6,1823.2M3176.1,1742.2L3193.2,1749.7M3015.4,1778.0L3012.0,1767.0M3051.8,1744.3L3047.3,1734.3M3098.4,1727.0L3092.4,1717.6M3148.1,1729.0L3140.4,1719.5"/>
<path stroke="#484848" stroke-width="3.50" d="M2995.4,1869.7L2992.5,1854.9"/>
<path stroke="#484848" stroke-width="3.85" d="M3291.5,1989.6L3277.0,1968.5M3257.1,2037.0L3244.0,2014.1M3207.2,2067.6L3196.0,2043.6M3149.4,2076.8L3140.3,2052.4M3092.4,2063.2L3085.6,2039.3M3001.7,1921.7L2998.5,1904.2M2998.5,1904.2L2995.4,1869.7M3213.4,1772.2L3227.8,1783.7"/>
<path stroke="#484848" stroke-width="4.20" d="M3308.9,1972.4L3291.5,1989.6M3284.0,2026.6L3291.5,1989.6M3284.0,2026.6L3257.1,2037.0M3240.1,2067.2L3257.1,2037.0M3240.1,2067.2L3207.2,2067.6M3184.1,2087.9L3207.2,2067.6M3184.1,2087.9L3149.4,2076.8M3124.4,2085.7L3149.4,2076.8M3124.4,2085.7L3092.4,2063.2M3305.1,1932.6L3290.1,1913.7M3045.0,2028.8L3040.0,2006.3M3295.9,1874.8L3281.3,1858.1M3010.5,1958.3L3001.7,1921.7M3251.8,1810.1L3262.2,1825.3"/>
<path stroke="#484848" stroke-width="4.55" d="M3308.9,1972.4L3305.1,1932.6M3070.1,2060.7L3092.4,2063.2M3070.1,2060.7L3045.0,2028.8M3029.6,2016.9L3045.0,2028.8M3311.2,1912.7L3295.9,1874.8M3311.2,1912.7L3305.1,1932.6M3014.4,1978.9L3010.5,1958.3"/>
<path stroke="#484848" stroke-width="4.90" d="M3290.5,1856.6L3295.9,1874.8"/>
<path stroke="#5a5a5a" stroke-width="7.0" d="M2991.9,1810.6h0"/>
<path stroke="#5a5a5a" stroke-width="7.5" d="M3193.2,1749.7h0M3012.0,1767.0h0M3047.3,1734.3h0M3092.4,1717.6h0M3140.4,1719.5h0"/>
<path stroke="#5a5a5a" stroke-width="8.0" d="M2992.5,1854.9h0M2994.6,1823.2h0M3015.4,1778.0h0M3051.8,1744.3h0M3098.4,1727.0h0M3148.1,1729.0h0"/>
<path stroke="#5a5a5a" stroke-width="9.0" d="M2998.5,1904.2h0"/>
<path stroke="#5a5a5a" stroke-width="9.5" d="M3257.1,2037.0h0M3207.2,2067.6h0"/>
<path stroke="#5a5a5a" stroke-width="10.0" d="M3291.5,1989.6h0M3149.4,2076.8h0M3092.4,2063.2h0M3010.5,1958.3h0"/>
<path stroke="#5a5a5a" stroke-width="10.5" d="M3305.1,1932.6h0M3045.0,2028.8h0"/>
<path stroke="#5a5a5a" stroke-width="11.0" d="M3295.9,1874.8h0"/>
<path stroke="#424242" stroke-width="3.15" d="M3004.3,1805.8L2994.6,1823.2M3176.1,1742.2L3148.1,1729.0"/>
<path stroke="#424242" stroke-width="3.50" d="M3007.5,1818.8L3004.3,1805.8M3185.4,1753.0L3176.1,1742.2M3004.3,1805.8L3015.4,1778.0M3034.0,1764.9L3051.8,1744.3M3034.0,1764.9L3015.4,1778.0M3077.0,1738.4L3098.4,1727.0M3077.0,1738.4L3051.8,1744.3M3126.9,1730.5L3148.1,1729.0M3126.9,1730.5L3098.4,1727.0"/>
<path stroke="#424242" stroke-width="3.85" d="M3000.5,1851.0L2995.4,1869.7M3213.4,1772.2L3185.4,1753.0M3038.3,1776.5L3034.0,1764.9M3082.8,1749.1L3077.0,1738.4M3134.5,1740.9L3126.9,1730.5"/>
<path stroke="#424242" stroke-width="4.20" d="M3224.7,1784.7L3213.4,1772.2"/>
<path stroke="#424242" stroke-width="4.55" d="M3299.6,2051.5L3284.0,2026.6M3253.9,2093.8L3240.1,2067.2M3195.5,2115.4L3184.1,2087.9M3133.3,2113.0L3124.4,2085.7M3265.2,1824.9L3251.8,1810.1M3251.8,1810.1L3224.7,1784.7"/>
<path stroke="#424242" stroke-width="4.90" d="M3325.6,1994.9L3308.9,1972.4M3076.8,2087.0L3070.1,2060.7M3328.0,1932.7L3311.2,1912.7M3029.6,2016.9L3014.4,1978.9M3290.5,1856.6L3265.2,1824.9"/>
<path stroke="#424242" stroke-width="5.25" d="M3034.5,2041.3L3029.6,2016.9"/>
<path stroke="#545454" stroke-width="8.5" d="M3004.3,1805.8h0M3034.0,1764.9h0M3077.0,1738.4h0M3126.9,1730.5h0M3176.1,1742.2h0"/>
<path stroke="#545454" stroke-width="9.0" d="M2995.4,1869.7h0M3185.4,1753.0h0"/>
<path stroke="#545454" stroke-width="9.5" d="M3213.4,1772.2h0M3007.5,1818.8h0M3038.3,1776.5h0M3082.8,1749.1h0M3134.5,1740.9h0"/>
<path stroke="#545454" stroke-width="10.0" d="M3284.0,2026.6h0M3240.1,2067.2h0M3184.1,2087.9h0M3001.7,1921.7h0"/>
<path stroke="#545454" stroke-width="10.5" d="M3308.9,1972.4h0M3124.4,2085.7h0M3251.8,1810.1h0"/>
<path stroke="#545454" stroke-width="11.0" d="M3070.1,2060.7h0M3311.2,1912.7h0M3014.4,1978.9h0"/>
<path stroke="#545454" stroke-width="11.5" d="M3029.6,2016.9h0M3290.5,1856.6h0"/>
<path stroke="#3c3c3c" stroke-width="3.85" d="M3000.5,1851.0L3007.5,1818.8M3022.8,1802.6L3007.5,1818.8M3165.0,1750.0L3134.5,1740.9M3165.0,1750.0L3185.4,1753.0"/>
<path stroke="#3c3c3c" stroke-width="4.20" d="M3003.8,1866.4L3000.5,1851.0M3174.5,1761.6L3165.0,1750.0M3022.8,1802.6L3038.3,1776.5M3061.8,1766.4L3038.3,1776.5M3061.8,1766.4L3082.8,1749.1M3111.8,1747.9L3082.8,1749.1M3111.8,1747.9L3134.5,1740.9"/>
<path stroke="#3c3c3c" stroke-width="4.55" d="M3001.7,1902.7L3001.7,1921.7M3206.2,1777.1L3224.7,1784.7M3026.9,1816.2L3022.8,1802.6M3067.4,1778.7L3061.8,1766.4M3119.2,1759.5L3111.8,1747.9"/>
<path stroke="#3c3c3c" stroke-width="4.90" d="M3324.1,2037.1L3299.6,2051.5M3286.7,2088.6L3253.9,2093.8M3286.7,2088.6L3299.6,2051.5M3232.6,2121.9L3195.5,2115.4M3232.6,2121.9L3253.9,2093.8M3169.7,2131.9L3133.3,2113.0M3169.7,2131.9L3195.5,2115.4M3008.8,1960.8L3014.4,1978.9"/>
<path stroke="#3c3c3c" stroke-width="5.25" d="M3338.9,1975.3L3325.6,1994.9M3338.9,1975.3L3328.0,1932.7M3324.1,2037.1L3325.6,1994.9M3107.9,2117.1L3076.8,2087.0M3107.9,2117.1L3133.3,2113.0M3056.4,2079.7L3076.8,2087.0M3306.4,1874.3L3290.5,1856.6"/>
<path stroke="#3c3c3c" stroke-width="5.60" d="M3056.4,2079.7L3034.5,2041.3M3023.1,2025.6L3034.5,2041.3M3328.9,1912.4L3328.0,1932.7M3328.9,1912.4L3306.4,1874.3"/>
<path stroke="#4e4e4e" stroke-width="9.5" d="M3000.5,1851.0h0"/>
<path stroke="#4e4e4e" stroke-width="10.0" d="M3022.8,1802.6h0M3061.8,1766.4h0M3111.8,1747.9h0M3165.0,1750.0h0"/>
<path stroke="#4e4e4e" stroke-width="10.5" d="M3003.8,1866.4h0M3224.7,1784.7h0"/>
<path stroke="#4e4e4e" stroke-width="11.0" d="M3299.6,2051.5h0M3253.9,2093.8h0M3195.5,2115.4h0M3001.7,1902.7h0M3026.9,1816.2h0M3067.4,1778.7h0M3119.2,1759.5h0M3174.5,1761.6h0"/>
<path stroke="#4e4e4e" stroke-width="11.5" d="M3286.7,2088.6h0M3232.6,2121.9h0M3325.6,1994.9h0M3133.3,2113.0h0M3265.2,1824.9h0"/>
<path stroke="#4e4e4e" stroke-width="12.0" d="M3324.1,2037.1h0M3169.7,2131.9h0M3107.9,2117.1h0M3076.8,2087.0h0M3328.0,1932.7h0M3008.8,1960.8h0"/>
<path stroke="#4e4e4e" stroke-width="12.5" d="M3338.9,1975.3h0M3034.5,2041.3h0"/>
<path stroke="#4e4e4e" stroke-width="13.0" d="M3056.4,2079.7h0M3328.9,1912.4h0M3306.4,1874.3h0"/>
<path stroke="#363636" stroke-width="4.55" d="M3001.7,1902.7L3003.8,1866.4M3014.8,1847.9L3003.8,1866.4M3206.2,1777.1L3174.5,1761.6"/>
<path stroke="#363636" stroke-width="4.90" d="M3005.2,1921.1L3001.7,1902.7M3217.8,1790.5L3206.2,1777.1M3014.8,1847.9L3026.9,1816.2M3047.8,1802.3L3067.4,1778.7M3047.8,1802.3L3026.9,1816.2M3095.8,1772.8L3119.2,1759.5M3095.8,1772.8L3067.4,1778.7M3151.4,1764.0L3174.5,1761.6M3151.4,1764.0L3119.2,1759.5"/>
<path stroke="#363636" stroke-width="5.25" d="M3008.8,1960.8L3005.2,1921.1M3249.9,1812.8L3265.2,1824.9M3018.8,1864.2L3014.8,1847.9M3053.2,1816.8L3047.8,1802.3M3103.1,1786.1L3095.8,1772.8M3160.9,1776.9L3151.4,1764.0"/>
<path stroke="#363636" stroke-width="5.60" d="M3012.9,1982.9L3008.8,1960.8"/>
<path stroke="#363636" stroke-width="5.95" d="M3023.1,2025.6L3012.9,1982.9M3295.6,1858.3L3306.4,1874.3"/>
<path stroke="#484848" stroke-width="11.0" d="M3206.2,1777.1h0"/>
<path stroke="#484848" stroke-width="11.5" d="M3014.8,1847.9h0M3047.8,1802.3h0M3095.8,1772.8h0M3151.4,1764.0h0"/>
<path stroke="#484848" stroke-width="12.0" d="M3005.2,1921.1h0"/>
<path stroke="#484848" stroke-width="13.5" d="M3023.1,2025.6h0M3012.9,1982.9h0"/>
<path stroke="#303030" stroke-width="5.25" d="M3011.1,1901.1L3005.2,1921.1M3249.9,1812.8L3217.8,1790.5"/>
<path stroke="#303030" stroke-width="5.60" d="M3264.1,1828.6L3249.9,1812.8M3011.1,1901.1L3018.8,1864.2M3036.1,1846.9L3018.8,1864.2M3195.6,1787.9L3160.9,1776.9M3195.6,1787.9L3217.8,1790.5"/>
<path stroke="#303030" stroke-width="5.95" d="M3015.3,1920.7L3011.1,1901.1M3207.6,1802.6L3195.6,1787.9M3036.1,1846.9L3053.2,1816.8M3079.9,1806.3L3053.2,1816.8M3079.9,1806.3L3103.1,1786.1M3135.9,1785.6L3103.1,1786.1M3135.9,1785.6L3160.9,1776.9"/>
<path stroke="#303030" stroke-width="6.30" d="M3013.1,1962.7L3012.9,1982.9M3295.6,1858.3L3264.1,1828.6M3041.3,1864.1L3036.1,1846.9M3087.0,1821.8L3079.9,1806.3M3145.4,1800.2L3135.9,1785.6"/>
<path stroke="#424242" stroke-width="12.0" d="M3217.8,1790.5h0"/>
<path stroke="#424242" stroke-width="12.5" d="M3249.9,1812.8h0M3018.8,1864.2h0M3160.9,1776.9h0"/>
<path stroke="#424242" stroke-width="13.0" d="M3011.1,1901.1h0M3195.6,1787.9h0M3053.2,1816.8h0M3103.1,1786.1h0"/>
<path stroke="#424242" stroke-width="13.5" d="M3036.1,1846.9h0M3079.9,1806.3h0M3135.9,1785.6h0"/>
<path stroke="#424242" stroke-width="14.0" d="M3295.6,1858.3h0M3264.1,1828.6h0"/>
<path stroke="#2a2a2a" stroke-width="6.30" d="M3013.1,1962.7L3015.3,1920.7M3244.1,1820.9L3264.1,1828.6"/>
<path stroke="#2a2a2a" stroke-width="6.65" d="M3027.9,1900.9L3041.3,1864.1M3027.9,1900.9L3015.3,1920.7M3182.3,1806.1L3207.6,1802.6M3244.1,1820.9L3207.6,1802.6"/>
<path stroke="#2a2a2a" stroke-width="7.00" d="M3065.3,1849.4L3087.0,1821.8M3065.3,1849.4L3041.3,1864.1M3119.4,1816.1L3145.4,1800.2M3119.4,1816.1L3087.0,1821.8M3182.3,1806.1L3145.4,1800.2"/>
<path stroke="#3c3c3c" stroke-width="14.0" d="M3015.3,1920.7h0"/>
<path stroke="#3c3c3c" stroke-width="14.5" d="M3013.1,1962.7h0M3207.6,1802.6h0"/>
<path stroke="#3c3c3c" stroke-width="15.0" d="M3244.1,1820.9h0M3041.3,1864.1h0M3087.0,1821.8h0M3145.4,1800.2h0"/>
<path stroke="#3c3c3c" stroke-width="15.5" d="M3027.9,1900.9h0M3182.3,1806.1h0"/>
<path stroke="#3c3c3c" stroke-width="16.0" d="M3065.3,1849.4h0M3119.4,1816.1h0"/>
</g>
<rect x="2808.2" y="359.2" width="6.2" height="8.7" fill="#808080"/>
<rect x="2819.7" y="359.2" width="6.2" height="8.7" fill="#808080"/>
<rect x="2831.0" y="359.2" width="6.2" height="8.7" fill="#808080"/>
<rect x="521.2" y="1757.1" width="6.4" height="8.8" fill="#0d0d0d"/>
<rect x="532.6" y="1757.1" width="6.4" height="8.8" fill="#0d0d0d"/>
<rect x="544.0" y="1757.1" width="6.4" height="8.8" fill="#0d0d0d"/>

</g>
</svg>
</body></html>
